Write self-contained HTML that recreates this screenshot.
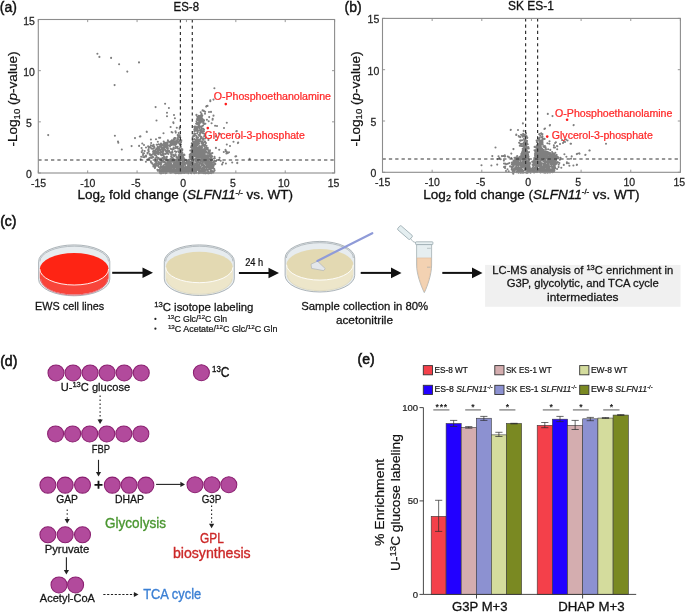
<!DOCTYPE html><html><head><meta charset="utf-8"><style>html,body{margin:0;padding:0;background:#fff;}svg{display:block;filter:blur(0.3px);}text{font-family:"Liberation Sans",sans-serif;}</style></head><body>
<svg width="685" height="612" viewBox="0 0 685 612">
<rect width="685" height="612" fill="#fff"/>
<path d="M38.30 173.00v-2.6M38.30 19.50v2.6M87.68 173.00v-2.6M87.68 19.50v2.6M137.07 173.00v-2.6M137.07 19.50v2.6M186.45 173.00v-2.6M186.45 19.50v2.6M235.83 173.00v-2.6M235.83 19.50v2.6M285.22 173.00v-2.6M285.22 19.50v2.6M334.60 173.00v-2.6M334.60 19.50v2.6M38.30 173.00h2.6M334.60 173.00h-2.6M38.30 121.83h2.6M334.60 121.83h-2.6M38.30 70.67h2.6M334.60 70.67h-2.6M38.30 19.50h2.6M334.60 19.50h-2.6" stroke="#8c8c8c" stroke-width="0.9" fill="none"/>
<path d="M194.5 144.3h0M182.5 168.0h0M193.3 171.8h0M176.3 167.6h0M193.9 153.7h0M196.1 155.4h0M176.6 160.4h0M202.1 163.9h0M172.9 160.0h0M187.8 169.5h0M198.7 151.0h0M182.2 165.8h0M200.5 160.0h0M196.9 160.7h0M190.7 156.3h0M204.5 171.7h0M185.1 162.9h0M194.3 173.2h0M203.6 150.9h0M180.4 163.0h0M163.1 166.1h0M180.7 169.4h0M189.1 169.7h0M203.4 169.1h0M179.0 169.8h0M179.6 159.8h0M210.5 163.7h0M187.3 161.4h0M195.8 143.7h0M207.7 166.5h0M206.3 167.1h0M180.8 154.5h0M161.4 169.5h0M192.5 146.7h0M205.0 173.2h0M161.2 171.9h0M188.0 172.7h0M205.8 163.9h0M168.9 166.2h0M188.2 166.5h0M203.0 172.9h0M205.2 167.3h0M203.4 165.2h0M173.7 163.7h0M209.7 173.0h0M193.1 170.3h0M204.5 157.1h0M194.6 167.1h0M208.2 166.6h0M199.8 157.0h0M169.5 166.8h0M177.6 167.1h0M181.3 171.7h0M198.4 147.3h0M208.0 167.3h0M167.7 168.0h0M212.0 162.6h0M178.6 159.2h0M211.5 162.4h0M187.9 171.3h0M183.0 169.4h0M172.7 160.4h0M166.9 170.6h0M178.8 156.4h0M190.9 170.4h0M182.3 170.8h0M198.4 159.5h0M177.3 158.3h0M189.4 166.6h0M200.9 157.9h0M189.8 165.9h0M208.4 155.9h0M192.5 157.9h0M187.1 163.8h0M184.0 158.7h0M185.3 171.6h0M197.1 169.5h0M189.7 171.6h0M201.5 170.2h0M168.2 164.5h0M195.0 146.5h0M206.8 172.4h0M171.6 171.9h0M181.1 157.3h0M212.5 168.1h0M193.1 158.1h0M163.4 172.9h0M201.8 172.5h0M182.4 170.6h0M167.9 170.9h0M190.2 164.0h0M196.5 155.4h0M163.8 171.5h0M193.6 167.2h0M164.4 168.9h0M163.5 169.1h0M189.3 171.1h0M200.3 151.1h0M198.9 159.3h0M203.4 155.6h0M186.2 168.2h0M180.8 157.9h0M196.5 172.8h0M178.2 168.1h0M197.5 162.0h0M181.4 152.9h0M163.7 165.3h0M164.5 168.4h0M206.1 163.1h0M174.0 172.2h0M211.5 159.2h0M173.0 172.3h0M191.0 158.6h0M199.8 162.6h0M197.9 169.6h0M180.6 152.2h0M198.4 162.2h0M162.3 168.2h0M207.3 161.7h0M198.9 167.5h0M186.7 168.2h0M202.6 167.9h0M191.0 170.0h0M196.2 163.8h0M165.6 168.2h0M189.6 161.7h0M193.2 163.4h0M202.3 165.5h0M194.9 144.1h0M199.0 149.9h0M198.7 148.4h0M199.2 172.6h0M185.4 163.5h0M200.6 161.4h0M194.1 144.4h0M199.4 151.6h0M195.6 163.7h0M195.8 151.1h0M211.8 171.4h0M203.5 172.4h0M171.1 171.7h0M203.5 158.0h0M207.0 164.1h0M172.3 170.2h0M176.8 168.4h0M209.1 164.4h0M179.7 154.3h0M179.1 155.4h0M165.4 168.2h0M175.1 171.4h0M179.8 172.0h0M206.9 167.5h0M193.4 170.7h0M209.9 159.2h0M198.8 156.2h0M199.9 162.2h0M175.8 165.2h0M194.8 151.4h0M171.0 170.4h0M208.0 173.3h0M190.2 169.9h0M199.7 155.0h0M181.9 158.5h0M180.0 152.6h0M186.7 161.8h0M181.2 156.0h0M210.6 168.6h0M207.5 156.9h0M180.8 171.1h0M203.8 168.9h0M187.7 163.4h0M209.9 164.7h0M194.3 166.0h0M184.2 159.3h0M172.3 170.9h0M194.2 151.5h0M193.7 163.9h0M210.8 162.2h0M206.8 156.9h0M210.9 164.1h0M186.4 163.2h0M182.3 150.1h0M195.4 171.1h0M196.2 148.2h0M202.2 165.2h0M171.7 165.9h0M175.6 171.9h0M195.3 171.8h0M171.3 172.6h0M207.6 169.7h0M198.8 173.3h0M169.8 171.4h0M195.2 153.9h0M178.9 167.8h0M203.6 155.6h0M179.8 170.9h0M181.8 167.5h0M199.6 170.2h0M210.8 161.4h0M173.9 164.5h0M208.6 161.9h0M210.7 172.0h0M182.8 157.5h0M202.5 165.2h0M203.6 166.3h0M192.2 152.3h0M170.5 165.6h0M177.3 172.8h0M206.8 173.0h0M197.6 156.0h0M192.9 163.2h0M199.6 168.6h0M195.2 145.8h0M204.6 151.2h0M199.1 148.3h0M168.1 169.8h0M181.0 173.2h0M202.8 162.5h0M185.2 167.7h0M204.5 170.7h0M211.6 160.3h0M205.9 156.1h0M173.8 166.4h0M191.6 161.5h0M173.5 160.8h0M194.5 148.4h0M196.0 147.8h0M202.1 159.2h0M181.0 159.3h0M193.9 144.9h0M168.7 163.8h0M181.7 150.9h0M176.3 171.9h0M176.6 159.8h0M178.9 155.1h0M205.8 173.3h0M198.6 148.4h0M182.5 167.8h0M181.5 169.7h0M194.0 170.6h0M179.7 157.8h0M187.6 171.1h0M202.7 172.4h0M210.0 172.6h0M207.9 161.5h0M201.6 149.0h0M181.4 168.6h0M198.4 170.2h0M191.8 159.3h0M193.2 151.6h0M182.3 160.3h0M182.6 162.7h0M200.5 166.5h0M193.7 144.6h0M198.9 166.4h0M205.4 173.3h0M198.8 167.6h0M170.3 172.8h0M186.1 172.0h0M201.8 171.2h0M200.1 147.0h0M186.6 170.9h0M168.5 171.4h0M196.0 170.1h0M168.9 166.6h0M193.7 153.3h0M206.3 159.4h0M190.7 169.7h0M165.5 173.2h0M193.4 154.4h0M202.3 150.3h0M179.1 166.0h0M193.9 172.9h0M191.1 162.8h0M192.7 155.6h0M187.2 170.1h0M194.6 142.7h0M171.9 160.3h0M193.1 156.9h0M167.1 171.4h0M206.2 166.6h0M181.3 150.3h0M194.2 155.9h0M209.7 165.0h0M173.2 170.4h0M163.1 166.5h0M170.6 161.1h0M186.9 162.1h0M162.6 169.9h0M201.5 164.5h0M199.5 156.6h0M199.3 156.2h0M177.8 165.5h0M196.8 168.5h0M197.7 150.4h0M201.8 158.4h0M174.1 162.2h0M199.4 171.7h0M199.5 152.3h0M172.7 170.5h0M193.4 163.8h0M195.3 172.7h0M184.9 168.4h0M197.0 168.9h0M183.2 164.8h0M171.2 161.6h0M164.1 170.6h0M165.7 171.2h0M196.7 161.9h0M196.9 165.1h0M179.3 167.7h0M203.4 170.0h0M163.5 169.2h0M208.5 171.7h0M204.9 167.5h0M193.6 167.9h0M193.5 151.0h0M200.1 148.4h0M175.0 164.5h0M211.1 157.8h0M205.1 161.4h0M183.1 166.3h0M178.4 164.1h0M200.4 172.7h0M186.0 167.0h0M178.4 168.1h0M173.8 171.6h0M197.1 157.6h0M164.3 166.7h0M196.9 166.7h0M193.3 153.2h0M181.3 154.4h0M207.8 157.7h0M180.1 169.8h0M188.2 165.7h0M199.9 162.3h0M168.2 168.5h0M195.1 165.3h0M201.0 160.2h0M197.3 168.5h0M211.7 164.9h0M165.4 172.2h0M212.1 167.0h0M198.9 155.7h0M170.4 162.0h0M181.1 166.8h0M196.8 157.7h0M193.5 156.5h0M181.4 165.3h0M208.1 155.5h0M190.4 165.5h0M182.3 149.2h0M198.3 169.6h0M201.0 164.0h0M205.2 163.3h0M194.0 156.3h0M176.6 161.7h0M201.5 164.4h0M193.4 149.9h0M182.4 156.3h0M192.9 154.9h0M195.8 171.2h0M169.7 162.6h0M201.2 154.2h0M186.0 172.6h0M168.5 166.5h0M209.9 158.3h0M188.7 164.5h0M187.1 162.1h0M203.9 158.4h0M181.7 171.8h0M171.1 163.5h0M180.8 165.9h0M166.5 172.9h0M182.3 163.9h0M171.9 165.3h0M209.8 158.6h0M171.6 167.2h0M166.9 166.4h0M202.9 161.9h0M172.0 172.3h0M178.7 162.1h0M203.4 167.6h0M204.2 153.1h0M182.7 162.0h0M194.9 153.4h0M209.2 168.8h0M163.0 168.0h0M208.0 166.6h0M167.4 168.1h0M160.6 171.9h0M194.8 149.9h0M172.4 166.4h0M207.9 166.9h0M168.9 170.0h0M192.2 166.5h0M195.4 170.1h0M201.8 168.3h0M170.5 163.8h0M188.1 165.3h0M183.2 169.7h0M188.6 169.1h0M195.3 168.4h0M179.9 155.2h0M193.8 162.0h0M196.2 171.2h0M177.5 172.8h0M198.1 161.6h0M177.9 169.1h0M179.4 156.9h0M187.9 166.2h0M182.4 159.4h0M203.8 151.2h0M203.9 154.7h0M186.8 172.6h0M194.7 166.9h0M175.9 160.4h0M193.6 166.6h0M206.9 159.1h0M208.8 161.1h0M194.9 166.8h0M208.2 161.2h0M192.7 161.7h0M196.9 160.7h0M196.1 148.7h0M195.4 156.4h0M201.1 170.7h0M194.8 153.6h0M203.6 166.7h0M194.0 171.3h0M202.9 160.1h0M208.7 156.0h0M191.4 171.4h0M194.2 148.7h0M166.4 172.3h0M164.7 169.3h0M198.1 149.6h0M198.9 147.9h0M197.8 168.9h0M193.3 164.3h0M184.4 171.3h0M173.5 172.3h0M176.5 164.9h0M168.8 169.0h0M179.5 160.1h0M183.3 163.3h0M167.7 167.0h0M179.3 162.2h0M193.4 155.1h0M180.4 166.7h0M210.1 166.6h0M163.2 172.6h0M197.3 168.0h0M177.6 161.0h0M211.8 168.1h0M191.9 151.7h0M182.7 169.9h0M180.0 163.5h0M191.9 170.1h0M202.8 150.9h0M182.4 160.4h0M203.2 169.9h0M162.2 168.2h0M203.0 169.2h0M205.1 167.3h0M196.3 170.7h0M189.3 167.0h0M170.6 165.6h0M192.2 163.3h0M173.5 165.6h0M202.0 156.4h0M164.6 167.3h0M200.9 149.3h0M190.7 170.2h0M206.9 158.4h0M169.6 164.0h0M179.2 159.7h0M181.3 158.2h0M191.7 152.8h0M161.8 173.1h0M205.9 157.3h0M201.3 155.4h0M210.2 166.1h0M203.4 172.3h0M189.5 169.3h0M184.3 171.7h0M191.7 154.5h0M166.4 172.1h0M173.6 159.7h0M194.0 172.0h0M195.5 154.3h0M211.2 173.1h0M207.8 170.4h0M201.7 164.3h0M194.3 172.9h0M200.0 171.5h0M195.9 151.4h0M191.3 165.8h0M198.0 148.1h0M161.9 171.1h0M171.7 171.3h0M205.9 169.9h0M165.1 171.2h0M204.6 161.7h0M203.6 157.0h0M193.3 146.5h0M197.8 159.4h0M167.7 169.3h0M204.5 152.5h0M176.9 170.4h0M166.1 172.7h0M163.0 170.1h0M195.4 148.6h0M179.3 173.1h0M198.5 151.2h0M202.8 152.7h0M204.1 158.5h0M169.5 166.2h0M197.7 148.2h0M192.3 157.6h0M192.5 164.2h0M203.0 160.3h0M198.8 154.8h0M203.0 152.5h0M204.6 169.1h0M208.2 157.0h0M169.9 168.1h0M179.7 160.7h0M183.6 158.2h0M166.4 164.4h0M203.3 169.2h0M177.0 164.3h0M180.2 165.6h0M163.2 169.4h0M210.6 157.5h0M173.3 167.7h0M197.0 148.1h0M190.6 158.4h0M197.2 145.2h0M206.1 164.5h0M191.4 169.0h0M199.6 147.2h0M203.8 171.4h0M180.6 155.2h0M204.5 158.5h0M181.0 171.6h0M201.2 152.6h0M183.1 172.8h0M202.6 170.7h0M203.2 168.6h0M210.8 171.3h0M193.5 153.4h0M183.0 157.8h0M211.4 166.4h0M209.7 161.9h0M202.9 169.8h0M194.0 150.3h0M196.0 150.6h0M188.7 171.0h0M192.9 149.9h0M176.2 162.3h0M210.7 158.1h0M204.5 161.2h0M190.2 162.4h0M170.7 164.3h0M184.4 159.2h0M192.5 156.7h0M180.3 160.4h0M175.1 173.0h0M175.7 166.2h0M206.2 155.8h0M183.3 165.1h0M210.8 165.2h0M178.7 163.2h0M192.7 168.7h0M203.5 158.3h0M199.2 165.3h0M200.3 156.9h0M201.6 164.2h0M200.6 160.4h0M186.4 172.2h0M201.5 169.4h0M192.2 153.9h0M198.3 151.2h0M180.7 159.4h0M180.4 152.1h0M201.7 168.7h0M204.7 168.3h0M182.6 170.6h0M189.9 157.6h0M208.8 166.3h0M188.5 173.3h0M196.3 154.2h0M179.0 160.7h0M178.6 171.8h0M195.9 158.5h0M181.2 159.6h0M190.4 169.6h0M183.3 161.6h0M188.1 167.6h0M211.9 167.9h0M207.4 163.7h0M203.5 173.1h0M207.1 155.2h0M193.4 160.9h0M178.7 173.2h0M193.7 143.3h0M181.8 166.7h0M176.3 163.7h0M204.6 160.4h0M195.4 148.2h0M174.1 162.3h0M188.2 173.3h0M187.7 167.8h0M192.5 167.3h0M200.8 152.1h0M197.9 153.1h0M165.3 170.4h0M162.9 170.0h0M190.9 172.1h0M183.3 161.5h0M209.3 168.8h0M176.7 170.2h0M203.2 151.5h0M191.9 172.1h0M186.3 171.8h0M198.1 149.0h0M176.4 169.5h0M185.7 166.9h0M166.5 167.9h0M195.2 152.7h0M168.3 164.2h0M183.5 168.3h0M178.7 164.7h0M180.0 172.1h0M171.0 171.9h0M197.4 150.2h0M207.7 160.4h0M192.2 148.7h0M174.3 166.2h0M180.4 162.6h0M169.4 168.7h0M177.0 162.8h0M179.2 157.7h0M166.7 164.5h0M208.2 166.3h0M206.8 169.0h0M195.2 153.0h0M181.9 162.7h0M197.1 149.8h0M204.9 153.1h0M193.3 147.7h0M166.1 170.7h0M198.9 164.4h0M193.8 147.6h0M204.5 159.9h0M198.0 150.0h0M183.1 163.5h0M204.2 166.4h0M205.3 161.1h0M165.9 166.9h0M171.1 170.7h0M196.8 154.4h0M199.6 168.0h0M209.3 163.7h0M199.1 168.1h0M193.3 156.2h0M182.7 158.1h0M197.2 167.3h0M211.4 162.0h0M197.5 163.0h0M175.9 169.8h0M177.7 167.6h0M189.1 165.9h0M169.0 162.9h0M191.7 156.5h0M200.6 168.1h0M170.4 164.0h0M212.6 165.6h0M212.0 159.7h0M208.7 162.2h0M193.3 171.4h0M194.6 149.9h0M204.5 151.3h0M169.8 162.0h0M204.8 171.1h0M168.9 166.6h0M204.0 165.3h0M203.7 152.1h0M179.5 159.3h0M179.6 168.1h0M190.0 161.7h0M203.4 164.2h0M208.0 171.7h0M196.5 147.1h0M183.5 172.5h0M204.6 168.9h0M201.7 155.4h0M175.0 162.8h0M195.3 167.9h0M211.5 170.5h0M205.9 172.6h0M211.0 161.5h0M195.9 161.1h0M175.7 159.9h0M210.5 157.1h0M194.3 151.4h0M178.2 169.8h0M196.0 156.0h0M179.7 160.2h0M182.1 158.6h0M207.2 159.2h0M166.0 169.1h0M183.3 169.1h0M189.2 164.4h0M212.5 164.7h0M165.4 168.1h0M210.9 159.7h0M197.5 155.4h0M207.1 161.5h0M206.2 159.7h0M208.6 169.3h0M168.9 165.4h0M178.1 166.0h0M196.1 167.9h0M199.1 171.8h0M189.1 167.2h0M166.0 171.1h0M195.8 150.0h0M204.4 160.3h0M165.9 167.1h0M175.4 163.6h0M206.4 158.9h0M196.5 167.4h0M186.6 169.4h0M169.7 167.7h0M196.0 154.3h0M204.8 154.4h0M206.3 161.2h0M171.5 170.1h0M184.8 160.1h0M180.6 153.1h0M184.3 173.0h0M195.6 150.6h0M173.9 159.9h0M188.0 172.0h0M189.7 166.2h0M206.2 166.3h0M193.6 161.9h0M202.2 169.4h0M209.7 163.4h0M176.1 166.0h0M199.2 158.0h0M193.7 153.0h0M177.1 173.0h0M198.5 159.3h0M208.8 160.3h0M190.8 173.0h0M178.9 166.3h0M182.7 169.3h0M197.3 148.9h0M192.0 169.1h0M194.3 148.2h0M198.9 172.2h0M202.9 169.5h0M206.4 162.1h0M177.3 165.5h0M194.4 154.7h0M196.0 152.6h0M177.7 157.5h0M191.7 150.1h0M209.0 159.7h0M192.5 164.7h0M203.1 155.3h0M189.4 162.6h0M191.9 152.4h0M199.3 150.1h0M197.7 166.0h0M201.1 151.7h0M200.9 172.7h0M187.7 171.5h0M185.2 162.6h0M201.0 153.4h0M199.1 170.9h0M201.2 149.6h0M193.7 152.8h0M202.4 156.4h0M177.2 170.4h0M165.7 165.0h0M181.3 169.1h0M181.7 170.9h0M210.1 161.7h0M200.2 162.2h0M175.8 173.2h0M168.3 169.1h0M199.8 167.8h0M185.7 170.0h0M168.6 163.4h0M191.7 156.2h0M190.7 169.7h0M171.1 169.7h0M179.1 166.5h0M205.8 173.2h0M165.9 172.6h0M168.0 165.1h0M196.2 144.8h0M178.0 170.8h0M198.0 169.7h0M172.4 166.9h0M196.5 143.2h0M161.1 173.1h0M176.8 169.6h0M169.5 163.5h0M167.8 165.2h0M178.7 157.6h0M171.4 172.4h0M206.8 165.0h0M181.6 159.5h0M196.5 162.5h0M196.6 172.8h0M206.3 164.5h0M181.2 152.0h0M182.2 172.6h0M180.5 154.1h0M192.2 171.1h0M173.5 161.2h0M204.7 166.6h0M196.8 152.2h0M194.2 159.2h0M176.7 172.5h0M205.2 158.0h0M191.4 173.2h0M172.4 161.8h0M199.4 153.9h0M197.7 154.4h0M187.9 161.2h0M195.9 152.1h0M193.3 159.1h0M171.8 161.2h0M174.0 170.5h0M185.1 164.7h0M209.1 158.6h0M169.1 167.8h0M184.4 162.1h0M203.9 170.1h0M180.2 168.1h0M202.6 158.4h0M181.0 173.3h0M196.8 156.1h0M185.4 167.1h0M196.0 153.5h0M198.1 150.6h0M193.7 169.0h0M202.0 161.4h0M197.8 151.3h0M181.6 162.4h0M203.0 153.1h0M180.4 160.2h0M211.5 164.4h0M179.7 162.9h0M200.1 153.9h0M207.8 165.8h0M204.5 155.0h0M185.1 170.0h0M183.3 157.4h0M187.1 167.9h0M195.5 165.3h0M196.0 159.4h0M200.8 166.2h0M164.1 167.7h0M199.9 159.7h0M197.7 157.2h0M182.1 160.3h0M212.9 167.6h0M177.7 158.3h0M160.3 173.0h0M205.5 159.4h0M205.9 167.2h0M190.9 153.5h0M208.7 159.5h0M174.5 167.0h0M175.5 164.3h0M202.5 160.6h0M184.1 171.4h0M183.6 169.6h0M193.9 143.5h0M208.9 159.6h0M202.4 157.6h0M195.7 163.2h0M201.6 171.9h0M182.0 162.7h0M173.7 170.4h0M196.4 146.9h0M162.2 168.3h0M202.4 172.8h0M180.1 162.1h0M198.6 155.5h0M196.0 145.6h0M208.9 173.3h0M209.8 158.5h0M199.8 157.6h0M185.7 169.1h0M191.7 159.0h0M174.4 170.0h0M191.7 172.4h0M178.2 171.7h0M194.8 143.6h0M173.1 165.3h0M169.5 166.7h0M189.2 166.7h0M191.6 156.5h0M195.1 147.1h0M169.0 171.6h0M177.6 168.4h0M206.3 157.1h0M172.7 169.4h0M186.6 170.0h0M160.8 171.6h0M185.9 166.8h0M190.2 163.6h0M172.2 165.6h0M191.6 166.6h0M197.7 144.0h0M173.0 160.8h0M192.8 163.7h0M203.2 152.7h0M203.0 156.5h0M173.0 165.0h0M196.0 146.7h0M177.5 172.6h0M212.9 166.9h0M201.3 170.5h0M199.8 162.0h0M170.5 161.6h0M204.8 166.7h0M164.9 164.5h0M211.2 163.1h0M199.5 146.2h0M203.9 171.4h0M208.0 165.4h0M204.1 167.2h0M191.3 155.7h0M203.7 166.6h0M210.9 158.7h0M211.3 166.7h0M173.4 168.3h0M186.1 170.5h0M196.3 164.3h0M180.8 166.6h0M202.1 163.4h0M209.9 167.9h0M194.6 168.3h0M178.0 160.7h0M204.3 166.9h0M203.1 155.1h0M192.1 156.4h0M178.7 168.5h0M192.8 151.2h0M197.2 155.9h0M195.0 167.3h0M166.4 163.4h0M162.2 167.8h0M171.9 169.9h0M192.3 170.1h0M180.9 157.7h0M210.7 157.9h0M169.3 171.7h0M184.1 167.4h0M205.7 158.1h0M180.0 171.2h0M207.4 162.9h0M183.5 172.1h0M179.2 162.8h0M193.5 153.8h0M187.7 163.2h0M208.1 157.6h0M179.3 172.7h0M163.0 168.2h0M196.2 159.5h0M183.7 165.6h0M207.2 164.9h0M210.5 170.0h0M180.8 165.5h0M194.0 150.8h0M200.4 151.1h0M211.8 162.4h0M202.7 163.2h0M180.2 172.2h0M197.6 163.7h0M190.5 167.9h0M202.1 152.9h0M199.1 147.4h0M211.2 172.2h0M180.9 154.1h0M170.8 170.5h0M183.9 168.3h0M193.8 166.4h0M200.1 156.8h0M189.6 163.1h0M199.9 150.6h0M179.2 170.8h0M193.4 150.2h0M203.8 159.8h0M178.7 171.5h0M199.9 163.3h0M181.9 167.4h0M194.2 172.4h0M193.6 163.7h0M201.1 154.4h0M209.8 165.3h0M202.7 153.0h0M169.8 169.4h0M195.5 170.3h0M186.6 168.8h0M195.4 160.1h0M181.4 160.0h0M174.5 168.5h0M201.8 168.3h0M168.0 163.1h0M200.0 157.7h0M207.6 170.2h0M199.4 167.8h0M194.4 169.6h0M167.0 164.1h0M197.3 161.2h0M192.0 167.9h0M195.8 172.6h0M202.5 153.3h0M197.1 144.3h0M204.4 152.2h0M189.4 167.4h0M162.1 168.0h0M193.4 152.7h0M177.5 159.8h0M171.5 166.9h0M171.1 168.4h0M202.9 158.9h0M193.4 164.8h0M191.0 154.6h0M172.0 169.2h0M212.8 167.3h0M184.1 163.4h0M197.5 156.3h0M181.4 150.9h0M156.3 163.0h0M166.7 151.3h0M156.4 161.7h0M168.2 161.6h0M173.4 158.8h0M158.5 148.0h0M155.3 158.9h0M176.1 151.9h0M155.0 164.6h0M168.3 154.0h0M173.7 149.1h0M156.9 157.1h0M178.8 155.0h0M165.7 159.2h0M179.3 149.1h0M153.4 157.3h0M164.8 157.1h0M165.2 149.8h0M157.8 159.6h0M172.4 152.6h0M157.4 149.5h0M157.8 170.7h0M157.1 160.5h0M179.8 144.4h0M174.5 138.1h0M156.1 165.8h0M155.3 154.2h0M153.4 165.0h0M166.3 158.4h0M167.7 145.5h0M171.1 142.2h0M177.5 138.0h0M161.9 145.9h0M174.7 139.8h0M172.4 157.6h0M166.9 152.0h0M163.2 158.1h0M164.3 161.8h0M161.3 146.8h0M153.1 151.4h0M174.4 144.8h0M158.1 150.2h0M160.7 164.4h0M175.7 155.0h0M153.4 166.5h0M160.2 158.7h0M161.9 155.2h0M181.3 140.3h0M167.2 159.6h0M159.3 169.7h0M155.7 151.3h0M150.9 161.2h0M169.2 159.9h0M153.7 153.5h0M158.9 164.3h0M159.8 150.1h0M172.3 151.5h0M180.2 147.5h0M176.9 142.9h0M171.7 144.9h0M179.3 140.2h0M171.4 157.1h0M171.4 141.1h0M181.8 149.1h0M171.1 156.4h0M161.8 162.5h0M154.5 165.0h0M158.2 148.4h0M158.0 165.4h0M159.2 149.0h0M174.8 142.8h0M162.4 148.4h0M170.8 152.6h0M178.2 136.0h0M164.9 162.0h0M157.5 151.3h0M161.7 152.5h0M174.1 156.2h0M177.8 138.3h0M178.0 142.4h0M179.9 152.2h0M164.7 146.5h0M156.7 160.1h0M171.2 154.3h0M174.0 155.2h0M157.6 153.7h0M169.6 159.7h0M154.7 165.7h0M177.8 148.5h0M179.2 141.2h0M157.4 157.6h0M179.2 137.2h0M156.2 163.5h0M163.0 160.8h0M157.6 152.8h0M170.1 142.5h0M177.0 142.0h0M160.4 150.0h0M161.1 160.3h0M155.3 166.6h0M150.0 157.9h0M158.4 151.9h0M168.2 162.0h0M166.9 156.9h0M178.7 136.2h0M169.0 151.8h0M181.0 144.6h0M180.5 150.1h0M163.6 154.9h0M171.2 154.2h0M171.3 157.1h0M181.2 141.6h0M168.5 141.2h0M172.4 144.1h0M157.7 148.4h0M167.0 160.7h0M152.4 163.2h0M170.2 152.6h0M171.0 141.1h0M157.5 151.0h0M181.0 142.2h0M179.2 143.2h0M173.8 148.2h0M163.2 150.6h0M152.5 156.9h0M161.5 161.8h0M171.9 140.3h0M170.8 159.0h0M156.4 164.2h0M169.1 141.8h0M150.5 155.1h0M173.5 144.7h0M155.6 161.4h0M158.6 162.0h0M160.9 154.6h0M160.4 150.4h0M165.5 144.2h0M158.5 165.2h0M173.6 147.5h0M172.4 149.2h0M173.2 143.0h0M153.1 157.1h0M156.2 161.9h0M171.5 156.3h0M170.5 143.5h0M158.4 150.7h0M167.3 162.5h0M151.0 162.5h0M171.5 144.3h0M175.7 146.2h0M160.2 162.4h0M151.8 158.0h0M153.9 154.0h0M166.9 148.3h0M173.2 154.9h0M175.1 138.2h0M165.7 144.0h0M171.7 142.7h0M160.3 152.8h0M162.0 151.6h0M164.8 159.1h0M154.2 152.4h0M170.1 145.8h0M152.2 163.6h0M175.0 151.2h0M174.9 139.3h0M155.3 155.0h0M177.0 140.7h0M155.6 164.1h0M163.8 147.3h0M158.4 163.2h0M169.6 145.4h0M165.1 162.2h0M173.8 139.1h0M153.5 166.0h0M158.3 152.5h0M177.7 146.7h0M155.6 163.3h0M180.8 146.9h0M158.6 148.4h0M162.1 147.9h0M157.4 169.8h0M163.3 159.1h0M157.9 170.2h0M176.3 144.0h0M171.3 149.0h0M177.2 139.3h0M167.5 147.3h0M176.6 147.6h0M178.5 139.5h0M171.9 159.7h0M167.7 152.0h0M161.0 164.8h0M175.8 142.9h0M174.0 141.8h0M165.0 149.8h0M160.0 158.9h0M179.0 152.5h0M160.1 168.4h0M166.8 153.1h0M171.6 142.2h0M161.7 148.3h0M151.1 157.3h0M164.0 162.3h0M175.6 148.1h0M157.2 163.3h0M176.0 142.6h0M164.0 149.0h0M160.7 162.8h0M156.1 155.5h0M166.2 160.3h0M175.8 141.2h0M163.7 157.7h0M163.6 154.2h0M156.5 157.1h0M158.8 167.0h0M180.0 136.1h0M154.6 152.1h0M160.9 164.2h0M155.2 150.2h0M170.0 145.9h0M160.2 153.9h0M155.9 152.9h0M163.1 148.0h0M163.8 147.9h0M172.4 149.4h0M154.9 168.1h0M161.5 158.8h0M179.8 149.8h0M164.0 145.7h0M168.0 160.1h0M169.1 160.7h0M167.8 149.9h0M165.5 153.5h0M161.3 155.0h0M165.5 147.1h0M162.5 158.0h0M175.5 144.3h0M162.0 149.3h0M167.5 144.9h0M160.8 166.4h0M155.2 161.2h0M172.9 158.8h0M155.9 158.0h0M164.1 149.4h0M172.9 140.9h0M161.4 163.0h0M151.9 154.9h0M168.7 151.8h0M160.9 149.6h0M162.4 161.2h0M175.5 154.3h0M163.4 160.4h0M169.9 146.5h0M162.2 144.6h0M160.3 163.8h0M158.5 158.1h0M155.1 167.8h0M165.8 144.8h0M179.9 137.3h0M154.8 164.0h0M169.0 150.8h0M180.2 137.4h0M175.2 138.1h0M178.2 151.4h0M173.5 144.1h0M153.2 153.5h0M173.4 142.5h0M171.2 144.9h0M163.8 156.5h0M174.3 139.7h0M174.0 139.2h0M170.6 148.8h0M158.1 166.1h0M178.9 135.4h0M147.5 152.9h0M152.4 146.3h0M143.6 153.5h0M152.0 148.8h0M153.8 148.2h0M149.8 154.1h0M151.4 148.4h0M147.5 159.6h0M143.2 157.0h0M148.8 151.7h0M147.6 153.4h0M144.7 151.0h0M148.8 158.5h0M149.3 147.1h0M143.0 155.1h0M148.7 150.0h0M149.8 154.7h0M149.9 154.3h0M146.0 155.5h0M148.7 147.9h0M148.1 146.2h0M141.7 152.1h0M149.3 159.7h0M148.2 150.1h0M150.8 145.3h0M146.1 156.6h0M150.1 147.1h0M149.2 159.2h0M143.2 153.6h0M200.1 132.8h0M197.7 132.2h0M197.8 120.2h0M202.9 120.4h0M203.9 120.3h0M197.3 124.0h0M203.0 119.6h0M201.6 143.5h0M198.3 130.6h0M192.8 136.3h0M197.9 123.0h0M196.1 123.6h0M205.1 138.5h0M197.9 117.4h0M204.2 136.2h0M193.8 135.3h0M196.5 114.9h0M202.6 138.9h0M199.2 117.5h0M201.5 127.8h0M201.4 114.5h0M194.8 126.5h0M196.5 121.3h0M201.6 119.6h0M197.5 137.8h0M198.0 117.0h0M198.8 118.5h0M201.5 130.3h0M203.6 122.3h0M205.5 142.7h0M198.6 116.4h0M198.8 115.9h0M201.8 138.2h0M200.2 139.2h0M196.7 138.1h0M197.0 138.7h0M192.9 139.3h0M204.5 135.8h0M202.3 115.4h0M197.2 137.2h0M205.1 141.6h0M204.5 133.9h0M194.4 131.2h0M198.7 124.1h0M197.1 130.9h0M200.3 119.6h0M195.7 130.6h0M199.1 127.3h0M201.5 118.2h0M199.5 121.7h0M203.1 138.4h0M203.2 131.1h0M199.2 125.6h0M195.9 126.6h0M202.1 142.9h0M198.7 139.5h0M194.7 128.6h0M196.9 122.9h0M196.9 140.4h0M202.5 119.0h0M195.0 141.6h0M201.3 137.3h0M201.0 138.0h0M203.6 119.9h0M196.6 115.1h0M203.4 139.7h0M198.8 125.3h0M195.5 129.9h0M202.2 145.9h0M204.2 144.8h0M198.1 127.4h0M204.3 123.9h0M204.3 145.7h0M197.9 118.4h0M203.1 125.5h0M198.1 126.4h0M200.4 120.9h0M197.1 140.7h0M196.5 137.5h0M200.9 118.3h0M200.7 122.4h0M200.3 133.4h0M196.4 136.1h0M200.5 130.8h0M196.2 127.2h0M195.2 133.9h0M203.4 142.6h0M195.5 141.2h0M194.9 135.3h0M203.2 143.8h0M199.7 126.0h0M195.4 140.3h0M197.0 127.8h0M199.1 122.2h0M202.0 131.1h0M199.2 130.2h0M196.9 124.0h0M200.7 132.9h0M193.2 136.6h0M199.5 123.7h0M196.6 127.2h0M197.5 117.2h0M201.4 136.9h0M198.2 126.8h0M195.0 141.8h0M198.4 143.4h0M197.1 139.6h0M205.9 137.6h0M201.6 130.3h0M198.6 118.6h0M194.1 136.1h0M201.9 121.0h0M201.2 116.2h0M200.7 117.6h0M199.1 123.2h0M199.8 116.1h0M198.8 135.0h0M201.7 132.3h0M200.8 141.4h0M200.1 119.6h0M198.1 143.4h0M200.0 140.3h0M197.0 128.4h0M206.0 143.0h0M201.3 115.1h0M200.7 112.2h0M202.4 121.4h0M203.9 131.3h0M191.7 145.7h0M198.1 143.4h0M201.8 131.7h0M200.9 115.6h0M205.1 144.9h0M203.4 121.9h0M205.4 142.6h0M202.5 119.8h0M199.8 134.8h0M202.0 129.0h0M203.3 128.7h0M195.7 140.0h0M204.0 120.6h0M201.9 126.4h0M199.1 130.5h0M202.7 145.1h0M196.9 119.1h0M196.7 139.5h0M201.4 126.8h0M199.4 116.9h0M199.1 141.7h0M194.5 139.1h0M196.8 142.7h0M201.0 129.8h0M197.2 133.5h0M194.8 128.0h0M199.8 134.4h0M200.9 115.8h0M203.2 122.3h0M204.4 141.6h0M201.7 142.8h0M198.1 137.2h0M199.1 116.7h0M197.3 116.7h0M194.2 133.5h0M194.3 129.5h0M199.6 128.1h0M199.1 143.6h0M203.0 133.2h0M199.6 119.4h0M203.2 122.9h0M202.4 119.8h0M200.1 136.2h0M197.1 129.7h0M201.9 116.9h0M199.8 139.6h0M198.8 120.7h0M196.0 128.9h0M197.1 141.7h0M202.3 115.4h0M196.4 115.1h0M202.0 141.4h0M197.4 123.1h0M199.2 128.1h0M198.1 141.0h0M204.0 129.5h0M194.2 126.8h0M214.8 158.3h0M207.7 148.6h0M212.4 153.1h0M208.2 150.1h0M210.3 153.5h0M209.1 151.5h0M206.9 148.1h0M206.9 149.3h0M203.2 149.3h0M206.1 147.3h0M204.3 150.5h0M214.5 156.8h0M206.5 151.8h0M204.4 146.8h0M210.0 150.3h0M209.1 153.0h0M211.2 153.5h0M209.9 151.5h0M214.3 160.8h0M203.6 150.4h0M212.1 156.4h0M213.4 165.3h0M214.0 158.5h0M214.2 168.9h0M214.8 164.0h0M205.4 149.4h0M207.7 147.9h0M207.2 152.6h0M206.5 145.7h0M214.3 164.8h0M210.9 154.3h0M212.9 171.4h0M204.8 148.9h0M209.9 154.5h0M213.9 161.7h0M212.0 159.4h0M204.3 146.6h0M212.8 172.4h0M214.7 161.6h0M208.4 152.4h0M210.6 155.7h0M214.2 162.0h0M215.3 163.9h0M214.6 170.4h0M208.3 153.4h0M213.7 162.5h0M216.0 161.1h0M215.8 161.1h0M213.2 172.5h0M211.7 158.6h0M212.9 171.9h0M210.2 156.0h0M213.8 171.6h0M175.8 132.6h0M178.7 133.0h0M176.8 127.7h0M179.8 135.8h0M179.7 128.7h0M179.8 127.2h0M179.3 135.3h0M178.0 136.0h0M167.8 145.6h0M157.0 151.6h0M162.9 154.4h0M161.1 144.7h0M156.0 149.2h0M154.2 154.6h0M166.2 144.1h0M163.2 151.4h0M153.9 153.2h0M164.3 145.2h0M153.6 144.8h0M164.3 147.9h0M165.0 142.7h0M153.7 145.9h0M166.1 142.8h0M153.2 152.8h0M153.5 151.4h0M162.6 154.9h0M158.5 147.6h0M152.5 145.8h0M155.9 153.4h0M163.4 153.3h0M160.5 151.9h0M154.0 146.5h0M156.7 144.8h0M163.8 143.6h0M157.2 144.8h0M165.8 150.9h0M159.7 146.5h0M159.2 149.6h0M165.8 144.4h0M160.0 153.1h0M154.5 147.4h0M167.9 148.2h0M158.1 154.3h0M166.3 146.4h0M154.0 150.8h0M162.6 145.2h0M160.2 144.9h0M159.1 148.0h0M166.8 148.1h0M167.4 142.4h0M166.7 150.9h0M166.0 147.0h0M167.9 140.4h0M165.6 153.9h0M158.0 154.1h0M155.4 152.8h0M159.5 147.0h0M155.1 153.6h0M163.7 141.5h0M167.6 143.8h0M158.0 147.0h0M161.2 155.1h0M167.1 150.8h0M157.8 141.8h0M153.1 148.8h0M161.3 147.6h0M167.7 147.0h0M157.6 147.1h0M161.5 149.2h0M158.8 144.3h0M157.0 148.4h0M161.0 143.5h0M157.5 153.3h0M166.2 144.0h0M142.4 150.4h0M141.6 148.0h0M141.2 156.8h0M156.0 139.2h0M160.2 137.7h0M171.6 132.0h0M151.2 143.0h0M144.2 157.3h0M202.6 110.4h0M225.5 149.9h0M209.2 117.1h0M205.1 111.7h0M211.0 111.9h0M219.0 133.4h0M208.6 138.7h0M226.4 151.8h0M215.1 125.8h0M232.2 162.5h0M215.9 147.9h0M201.5 113.8h0M220.7 160.8h0M226.4 153.5h0M226.8 151.7h0M208.4 140.0h0M223.8 152.0h0M219.6 157.8h0M207.5 105.9h0M205.0 113.7h0M229.0 152.3h0M215.7 136.4h0M160.2 173.3h0M161.0 172.5h0M159.6 171.9h0M160.8 170.8h0M163.1 167.1h0M160.7 166.7h0M161.4 166.6h0M162.1 167.8h0M169.9 161.9h0M168.3 162.3h0M166.2 163.6h0M168.1 161.3h0M174.9 160.5h0M169.9 159.8h0M174.2 159.9h0M173.9 159.6h0M179.0 155.7h0M177.3 157.3h0M176.4 156.5h0M176.5 157.5h0M179.5 153.0h0M180.9 152.2h0M179.6 154.7h0M180.1 152.4h0M180.2 150.7h0M183.2 156.4h0M181.8 152.6h0M182.9 155.1h0M184.1 154.5h0M182.3 152.9h0M184.5 155.0h0M185.9 159.9h0M183.6 157.8h0M183.9 160.7h0M187.6 161.9h0M188.8 160.0h0M189.7 156.9h0M191.0 154.5h0M188.8 159.8h0M189.2 159.8h0M189.7 159.5h0M192.6 148.0h0M190.3 150.5h0M191.6 150.3h0M189.7 154.9h0M190.3 154.1h0M192.3 143.8h0M191.5 146.3h0M191.1 147.2h0M193.0 141.4h0M191.8 143.3h0M195.8 142.2h0M195.2 143.1h0M199.1 146.7h0M198.8 143.8h0M198.4 144.5h0M200.9 146.2h0M201.9 148.9h0M199.4 146.4h0M202.0 147.5h0M205.7 151.1h0M203.3 151.6h0M204.8 151.0h0M203.6 150.5h0M210.9 156.6h0M210.9 155.6h0M206.4 152.6h0M209.9 155.3h0M211.2 160.3h0M212.1 159.7h0M212.4 162.7h0M211.6 157.2h0M212.5 168.2h0M213.7 164.7h0M213.4 166.6h0M212.0 165.3h0M213.3 162.0h0M212.8 164.5h0M211.9 171.2h0M212.4 171.5h0M214.4 88.2h0M210.3 100.4h0M206.2 106.6h0M213.5 115.5h0M212.6 119.8h0M206.9 119.8h0M211.6 123.3h0M224.0 128.0h0M226.8 122.7h0M236.3 131.2h0M239.2 136.9h0M233.5 141.7h0M238.2 142.6h0M226.8 144.5h0M219.2 149.8h0M225.9 151.2h0M227.8 153.1h0M235.4 156.5h0M249.6 158.8h0M237.3 162.9h0M223.0 162.5h0M225.9 163.5h0M219.2 159.7h0M222.1 164.4h0M114.9 135.8h0M118.0 141.6h0M118.3 142.7h0M121.8 149.5h0M135.0 138.1h0M139.8 136.5h0M146.7 131.8h0M131.6 146.1h0M139.1 145.9h0M48.2 135.1h0M97.4 53.7h0M99.4 56.9h0M111.1 57.9h0M119.1 64.2h0M127.3 71.6h0M139.0 62.4h0M114.6 85.1h0M155.6 107.1h0M165.1 103.8h0M168.9 108.0h0M167.0 112.8h0M167.0 116.3h0M174.0 115.0h0M174.9 118.2h0M173.3 122.4h0M173.5 123.1h0M156.5 120.5h0M170.6 127.0h0M146.8 131.9h0M163.5 133.3h0M159.1 137.7h0M140.4 136.4h0M150.9 139.5h0M172.4 132.5h0M175.5 131.2h0M177.7 135.1h0M178.5 135.5h0M213.5 99.6h0M210.3 101.2h0M206.7 106.0h0M203.8 110.9h0M201.4 114.9h0M212.7 118.9h0M213.5 115.7h0M208.7 121.3h0M205.4 123.7h0M209.0 112.0h0M217.0 126.0h0M220.0 134.0h0M216.0 140.0h0M230.0 146.0h0M236.8 131.0h0M237.9 143.1h0M236.2 156.2h0M249.6 159.1h0M237.2 163.1h0M142.3 143.5h0M144.0 145.0h0M146.0 147.5h0M144.0 153.3h0M144.7 156.5h0M140.7 159.4h0M145.9 161.7h0" stroke="#7f7f7f" stroke-width="2.1" stroke-linecap="round" fill="none"/>
<path d="M180.40 19.50V173.00M192.30 19.50V173.00" stroke="#333" stroke-width="1.2" stroke-dasharray="3.1 3.1" fill="none"/>
<path d="M38.30 160.00H334.60" stroke="#333" stroke-width="1.2" stroke-dasharray="3.3 3.05" fill="none"/>
<rect x="38.30" y="19.50" width="296.30" height="153.50" fill="none" stroke="#8c8c8c" stroke-width="1.1"/>
<text x="38.50" y="186.90" font-size="10.5" fill="#262626" stroke="#262626" stroke-width="0.252" text-anchor="middle" >-15</text>
<text x="87.78" y="186.90" font-size="10.5" fill="#262626" stroke="#262626" stroke-width="0.252" text-anchor="middle" >-10</text>
<text x="135.87" y="186.90" font-size="10.5" fill="#262626" stroke="#262626" stroke-width="0.252" text-anchor="middle" >-5</text>
<text x="183.25" y="186.90" font-size="10.5" fill="#262626" stroke="#262626" stroke-width="0.252" text-anchor="middle" >0</text>
<text x="232.93" y="186.90" font-size="10.5" fill="#262626" stroke="#262626" stroke-width="0.252" text-anchor="middle" >5</text>
<text x="283.82" y="186.90" font-size="10.5" fill="#262626" stroke="#262626" stroke-width="0.252" text-anchor="middle" >10</text>
<text x="333.50" y="186.90" font-size="10.5" fill="#262626" stroke="#262626" stroke-width="0.252" text-anchor="middle" >15</text>
<text x="29.00" y="178.00" font-size="10.5" fill="#262626" stroke="#262626" stroke-width="0.252" text-anchor="middle" >0</text>
<text x="29.00" y="126.83" font-size="10.5" fill="#262626" stroke="#262626" stroke-width="0.252" text-anchor="middle" >5</text>
<text x="29.00" y="75.67" font-size="10.5" fill="#262626" stroke="#262626" stroke-width="0.252" text-anchor="middle" >10</text>
<text x="29.00" y="24.50" font-size="10.5" fill="#262626" stroke="#262626" stroke-width="0.252" text-anchor="middle" >15</text>
<path d="M382.50 172.30v-2.6M382.50 18.40v2.6M432.15 172.30v-2.6M432.15 18.40v2.6M481.80 172.30v-2.6M481.80 18.40v2.6M531.45 172.30v-2.6M531.45 18.40v2.6M581.10 172.30v-2.6M581.10 18.40v2.6M630.75 172.30v-2.6M630.75 18.40v2.6M680.40 172.30v-2.6M680.40 18.40v2.6M382.50 172.30h2.6M680.40 172.30h-2.6M382.50 121.00h2.6M680.40 121.00h-2.6M382.50 69.70h2.6M680.40 69.70h-2.6M382.50 18.40h2.6M680.40 18.40h-2.6" stroke="#8c8c8c" stroke-width="0.9" fill="none"/>
<path d="M522.5 171.6h0M518.0 163.6h0M541.3 155.9h0M521.0 167.5h0M530.7 169.7h0M524.0 172.5h0M515.2 160.9h0M529.3 162.2h0M527.6 163.1h0M534.8 161.8h0M553.0 159.7h0M555.1 156.8h0M521.1 171.1h0M538.5 164.3h0M528.4 169.0h0M518.4 165.4h0M516.7 163.1h0M544.0 171.2h0M550.4 157.3h0M536.2 157.5h0M515.5 169.8h0M535.2 163.5h0M524.4 154.8h0M529.3 167.6h0M542.3 172.0h0M521.4 165.5h0M525.9 141.9h0M522.8 154.3h0M538.9 150.5h0M517.1 157.8h0M528.6 166.8h0M535.1 163.7h0M545.9 152.5h0M520.3 171.9h0M539.7 157.1h0M517.8 159.7h0M544.6 156.3h0M545.1 163.7h0M516.5 171.8h0M546.5 157.2h0M522.7 158.0h0M545.9 161.8h0M553.4 164.8h0M537.0 172.1h0M529.0 171.0h0M550.7 157.7h0M540.6 171.5h0M529.0 171.5h0M525.4 160.7h0M550.4 162.9h0M554.6 164.3h0M549.4 160.4h0M534.4 158.1h0M515.4 164.4h0M524.5 154.6h0M517.6 167.5h0M524.7 150.6h0M548.7 157.3h0M524.8 169.3h0M549.1 160.2h0M547.6 166.3h0M547.6 172.6h0M553.9 166.1h0M518.5 160.6h0M533.2 168.7h0M553.2 170.5h0M516.5 160.5h0M551.4 161.9h0M526.8 142.7h0M553.9 168.4h0M541.8 153.0h0M549.7 167.0h0M545.1 160.3h0M526.7 150.8h0M544.9 152.4h0M520.3 165.0h0M537.4 164.5h0M549.6 159.0h0M527.1 169.1h0M545.6 156.5h0M537.7 170.8h0M552.4 159.8h0M540.0 154.5h0M554.6 159.6h0M552.8 170.4h0M543.6 172.3h0M550.4 158.0h0M526.3 162.8h0M550.2 157.1h0M556.2 158.2h0M522.1 158.0h0M547.0 167.3h0M529.1 171.1h0M528.0 163.4h0M520.6 159.7h0M518.1 171.7h0M539.5 162.0h0M555.1 161.9h0M523.0 152.9h0M528.0 153.1h0M548.8 153.2h0M518.7 163.7h0M537.7 150.9h0M541.5 166.1h0M547.7 164.7h0M538.7 149.7h0M551.2 155.5h0M540.7 157.1h0M541.9 152.2h0M538.4 164.6h0M528.6 160.3h0M518.9 167.3h0M516.3 166.3h0M541.0 149.4h0M526.5 172.1h0M545.6 164.6h0M538.3 161.6h0M512.8 166.9h0M527.2 168.3h0M531.0 170.0h0M534.1 172.4h0M544.7 172.2h0M553.2 154.8h0M544.4 171.3h0M542.4 152.3h0M539.3 162.1h0M523.7 163.2h0M524.2 157.8h0M539.6 154.2h0M521.7 163.2h0M548.8 162.0h0M551.5 165.9h0M534.6 163.9h0M526.5 162.0h0M535.2 169.2h0M543.2 170.0h0M551.6 171.9h0M540.2 160.8h0M548.3 160.6h0M522.3 164.1h0M539.3 147.8h0M543.4 159.1h0M524.4 155.4h0M523.0 160.1h0M550.3 170.3h0M551.0 162.3h0M534.3 158.7h0M552.3 172.0h0M521.4 165.1h0M555.0 160.5h0M534.2 159.7h0M537.0 147.7h0M527.5 153.5h0M526.4 156.8h0M519.5 156.9h0M548.3 161.2h0M546.8 169.0h0M536.8 162.4h0M543.5 157.6h0M535.3 154.1h0M517.6 170.4h0M535.4 163.3h0M553.7 164.5h0M537.9 171.3h0M540.5 155.5h0M548.1 169.6h0M528.4 158.1h0M543.0 160.5h0M524.7 170.0h0M537.2 163.9h0M543.4 155.2h0M537.1 161.9h0M540.7 150.6h0M534.2 159.3h0M544.2 155.2h0M535.6 159.4h0M538.7 155.4h0M534.3 159.3h0M516.8 168.0h0M535.8 163.1h0M539.2 166.1h0M533.5 162.7h0M537.6 162.4h0M552.5 172.3h0M528.8 166.5h0M535.1 159.1h0M551.1 171.0h0M525.9 148.4h0M553.7 160.0h0M537.6 160.9h0M541.7 154.8h0M545.1 172.7h0M540.7 161.0h0M536.9 170.9h0M518.5 167.1h0M528.6 169.1h0M548.5 162.2h0M553.8 157.4h0M525.0 161.1h0M552.3 157.5h0M540.4 172.0h0M548.0 172.4h0M540.7 151.0h0M549.8 158.0h0M540.5 166.6h0M525.7 145.9h0M552.4 160.3h0M513.5 163.3h0M544.9 165.3h0M545.0 162.4h0M528.0 171.8h0M526.0 169.4h0M546.5 169.2h0M540.7 158.6h0M549.6 158.1h0M543.7 172.2h0M555.8 161.1h0M543.9 158.1h0M550.7 163.2h0M518.1 161.1h0M527.4 170.3h0M522.3 153.3h0M537.8 147.9h0M544.9 166.3h0M538.6 168.7h0M534.5 164.9h0M526.9 169.3h0M542.4 171.4h0M549.8 166.7h0M542.4 166.7h0M537.7 153.7h0M526.6 149.7h0M527.5 157.2h0M540.5 168.4h0M519.9 164.4h0M515.0 162.5h0M537.8 169.2h0M513.9 163.1h0M515.9 168.2h0M539.9 157.5h0M524.4 168.7h0M517.5 159.7h0M549.8 162.1h0M525.2 164.4h0M518.5 171.4h0M552.3 159.4h0M551.9 161.4h0M542.3 152.8h0M542.8 152.0h0M553.6 154.3h0M524.5 154.9h0M545.7 154.2h0M549.6 169.2h0M531.6 168.9h0M517.1 169.2h0M515.9 160.8h0M539.2 147.2h0M532.3 168.5h0M514.6 170.6h0M551.0 156.0h0M522.5 151.2h0M550.6 155.1h0M537.3 149.7h0M530.7 170.5h0M517.5 163.4h0M526.5 154.6h0M544.9 152.4h0M532.6 164.7h0M536.5 159.6h0M522.0 157.0h0M525.6 144.2h0M537.7 151.4h0M534.3 168.7h0M532.6 167.9h0M525.5 147.2h0M554.1 155.9h0M538.7 162.9h0M526.1 160.7h0M553.1 154.5h0M513.6 160.6h0M547.6 155.7h0M541.1 169.3h0M520.6 169.8h0M527.0 154.6h0M538.3 169.2h0M533.5 165.0h0M526.8 150.6h0M513.0 164.3h0M526.4 142.8h0M540.4 155.4h0M521.2 159.1h0M545.1 157.6h0M537.9 163.2h0M519.3 163.0h0M538.0 154.2h0M535.8 150.9h0M530.7 171.0h0M532.2 170.8h0M557.0 158.1h0M526.7 151.9h0M555.3 163.2h0M544.6 152.5h0M549.5 158.7h0M515.4 159.9h0M534.5 157.7h0M543.9 165.7h0M522.4 163.7h0M539.2 151.5h0M541.4 168.3h0M537.7 164.7h0M522.0 162.8h0M553.6 167.7h0M518.3 159.4h0M512.9 171.3h0M515.3 158.8h0M552.1 166.7h0M522.9 157.9h0M536.1 164.5h0M518.6 171.7h0M536.6 150.6h0M549.7 158.4h0M536.4 166.5h0M523.1 171.4h0M539.8 157.5h0M544.0 153.3h0M528.1 158.0h0M548.6 162.7h0M528.0 160.9h0M517.1 171.8h0M536.6 153.7h0M552.5 162.6h0M544.2 161.1h0M519.1 159.3h0M536.0 159.4h0M526.2 166.8h0M550.8 164.6h0M525.3 157.5h0M545.6 153.4h0M536.1 155.1h0M528.8 170.4h0M539.8 162.2h0M551.0 164.7h0M524.0 165.0h0M540.2 157.9h0M544.0 167.6h0M525.5 150.6h0M526.3 166.0h0M517.9 162.5h0M540.0 154.1h0M520.2 171.9h0M516.8 168.5h0M522.9 149.3h0M524.7 152.2h0M541.8 171.8h0M525.8 163.7h0M522.7 151.6h0M543.6 151.2h0M544.1 167.3h0M542.1 157.2h0M541.8 163.0h0M519.7 163.8h0M518.0 168.2h0M514.3 163.0h0M540.0 161.8h0M537.5 171.8h0M526.4 169.5h0M536.7 148.5h0M524.8 144.7h0M538.9 165.7h0M523.9 161.9h0M543.0 154.9h0M547.7 154.9h0M518.9 164.2h0M539.1 156.5h0M552.5 160.3h0M536.3 165.9h0M529.1 164.4h0M524.7 162.9h0M520.0 157.3h0M537.7 163.2h0M518.0 168.1h0M521.2 165.9h0M550.2 170.1h0M526.4 163.8h0M549.3 169.3h0M537.4 144.7h0M524.9 154.8h0M526.3 164.2h0M525.7 164.1h0M523.5 144.2h0M548.4 168.4h0M533.0 165.4h0M548.4 168.4h0M555.0 161.8h0M522.2 172.6h0M536.2 170.9h0M522.3 167.1h0M548.2 164.4h0M526.3 172.6h0M527.4 172.7h0M524.2 153.9h0M520.4 165.0h0M516.6 160.2h0M527.1 152.0h0M546.2 156.1h0M545.8 167.2h0M524.2 152.3h0M536.9 150.8h0M523.2 170.8h0M553.8 161.4h0M549.8 171.4h0M546.2 171.7h0M548.5 163.6h0M525.8 146.0h0M516.8 157.5h0M537.7 163.4h0M523.6 146.4h0M553.8 165.9h0M527.4 171.4h0M532.7 167.8h0M544.1 156.0h0M529.1 164.3h0M527.0 151.2h0M527.1 144.0h0M551.6 161.8h0M540.3 167.9h0M539.6 154.4h0M546.1 172.1h0M528.9 164.4h0M535.8 154.0h0M553.1 154.6h0M556.2 160.0h0M536.7 171.2h0M536.9 152.5h0M522.7 153.4h0M543.7 167.1h0M523.0 161.5h0M525.8 169.7h0M513.8 162.6h0M538.7 149.9h0M515.2 159.6h0M521.7 156.9h0M555.9 162.9h0M537.6 166.2h0M546.4 168.1h0M517.6 171.1h0M533.5 166.2h0M539.9 153.9h0M539.7 169.7h0M519.0 162.9h0M543.6 156.6h0M537.8 161.6h0M534.2 168.8h0M536.2 155.4h0M537.3 155.0h0M525.2 143.5h0M544.2 169.4h0M519.3 168.7h0M530.4 170.6h0M513.4 164.8h0M538.4 150.2h0M555.7 157.6h0M524.8 157.6h0M552.0 160.3h0M544.7 167.7h0M543.4 161.2h0M542.0 159.7h0M529.4 166.3h0M529.8 170.6h0M554.2 159.1h0M525.1 158.1h0M542.4 155.6h0M520.8 157.9h0M535.6 154.3h0M549.8 155.5h0M523.2 172.6h0M538.5 150.6h0M525.2 169.8h0M524.3 168.1h0M536.6 149.4h0M532.9 168.7h0M520.7 163.5h0M517.4 164.8h0M522.2 159.6h0M521.7 156.4h0M540.0 159.6h0M551.6 155.8h0M536.7 145.7h0M536.8 169.3h0M513.6 170.1h0M547.3 161.2h0M546.7 156.9h0M541.8 156.7h0M526.3 150.8h0M537.8 168.9h0M524.4 162.1h0M548.5 158.1h0M523.8 166.8h0M518.5 167.1h0M525.9 145.2h0M525.2 165.9h0M549.9 154.3h0M524.2 149.4h0M539.8 171.1h0M522.4 152.8h0M519.4 170.1h0M528.3 169.5h0M521.5 169.3h0M552.5 157.8h0M551.9 167.0h0M519.1 169.2h0M555.3 155.2h0M544.7 161.5h0M528.3 159.4h0M547.7 169.8h0M539.3 157.4h0M537.8 155.1h0M534.7 169.4h0M555.3 159.1h0M539.0 154.7h0M527.2 167.8h0M554.9 162.3h0M539.8 147.4h0M545.5 156.6h0M516.1 161.5h0M538.2 159.2h0M522.5 152.7h0M525.2 159.4h0M517.3 168.4h0M519.8 157.9h0M542.0 155.0h0M527.8 156.5h0M548.2 158.5h0M521.0 167.7h0M518.3 158.8h0M516.5 172.3h0M546.5 169.9h0M534.3 168.6h0M545.2 158.4h0M524.9 159.1h0M552.3 156.2h0M524.8 164.4h0M517.5 157.9h0M520.5 165.0h0M526.0 145.8h0M553.9 155.0h0M554.2 162.8h0M523.5 156.7h0M545.0 167.5h0M527.3 164.3h0M545.4 171.7h0M544.9 169.6h0M535.4 154.6h0M525.2 146.7h0M547.1 165.3h0M526.0 143.4h0M553.4 164.5h0M546.5 166.6h0M525.8 158.9h0M535.8 167.2h0M513.7 164.0h0M515.3 167.7h0M547.9 158.6h0M533.6 163.4h0M526.4 154.3h0M525.9 154.6h0M549.0 154.5h0M522.0 158.0h0M534.7 172.3h0M528.0 170.2h0M520.9 167.9h0M527.0 155.1h0M537.1 170.8h0M540.8 164.1h0M527.2 147.2h0M553.5 158.7h0M539.6 153.5h0M528.0 168.6h0M526.2 172.4h0M545.2 155.1h0M548.3 156.5h0M552.2 164.5h0M522.9 159.8h0M556.4 155.9h0M529.7 168.1h0M537.8 147.9h0M525.0 148.6h0M537.9 159.4h0M538.3 161.7h0M517.2 160.1h0M543.4 171.4h0M541.5 157.9h0M521.2 162.5h0M520.9 170.8h0M540.1 159.7h0M540.6 148.7h0M529.6 164.6h0M551.3 158.8h0M539.7 159.5h0M522.7 148.9h0M518.7 168.1h0M541.7 165.7h0M552.0 161.4h0M526.2 145.0h0M552.2 167.9h0M536.3 165.7h0M533.2 170.7h0M520.3 159.2h0M513.4 170.0h0M520.6 162.4h0M552.3 155.1h0M534.2 169.2h0M527.6 152.7h0M525.2 146.8h0M543.4 170.6h0M539.0 169.9h0M527.9 165.4h0M527.0 156.6h0M521.2 162.2h0M513.1 171.1h0M550.7 159.1h0M550.1 172.5h0M521.6 170.0h0M522.6 153.5h0M535.0 162.3h0M523.4 161.9h0M540.1 155.1h0M543.9 163.5h0M525.8 165.3h0M539.0 148.5h0M550.6 158.2h0M543.1 164.0h0M543.8 165.8h0M537.9 151.7h0M525.6 152.4h0M546.6 154.1h0M547.8 172.4h0M539.0 158.8h0M515.9 167.2h0M540.3 153.2h0M527.6 166.5h0M513.0 165.1h0M529.8 169.2h0M547.9 172.5h0M539.4 153.4h0M552.5 171.0h0M541.1 164.4h0M550.4 153.7h0M538.1 156.9h0M518.0 167.2h0M533.8 163.5h0M516.7 160.7h0M545.4 170.9h0M513.7 166.1h0M554.3 167.2h0M525.6 155.7h0M543.0 170.2h0M539.5 149.8h0M543.0 154.2h0M552.8 171.1h0M552.2 169.0h0M547.4 167.6h0M542.7 167.9h0M535.7 165.6h0M548.7 167.8h0M521.3 159.6h0M532.3 171.1h0M541.4 171.5h0M549.2 159.4h0M519.5 167.6h0M551.2 156.9h0M547.3 153.4h0M545.9 158.7h0M523.9 142.8h0M539.9 166.9h0M526.4 163.7h0M552.5 170.1h0M525.4 149.5h0M546.8 170.6h0M525.7 163.4h0M521.9 155.4h0M554.5 159.7h0M539.7 157.4h0M527.2 155.8h0M527.0 166.3h0M538.3 159.3h0M549.5 170.0h0M523.9 157.6h0M532.1 169.1h0M540.3 159.5h0M514.2 172.1h0M556.2 156.5h0M536.8 147.5h0M553.9 154.6h0M542.4 156.6h0M542.5 167.0h0M541.9 152.9h0M527.8 166.1h0M536.2 171.3h0M532.8 169.1h0M539.5 169.3h0M521.3 157.0h0M537.3 147.0h0M538.6 159.3h0M529.9 170.1h0M541.2 150.5h0M549.7 168.2h0M533.4 162.2h0M536.9 151.2h0M521.9 153.6h0M548.9 165.4h0M522.4 155.5h0M536.8 146.9h0M514.7 162.5h0M552.1 154.3h0M540.3 153.7h0M555.3 161.7h0M518.9 168.1h0M530.3 168.7h0M553.2 163.5h0M530.0 168.8h0M514.2 168.8h0M540.2 167.0h0M518.5 172.7h0M536.7 156.3h0M547.0 161.2h0M540.5 152.6h0M521.8 171.4h0M522.9 159.4h0M552.3 157.6h0M522.2 159.0h0M545.1 170.1h0M513.1 169.9h0M551.5 169.6h0M512.8 169.8h0M517.6 158.3h0M525.9 159.7h0M533.5 170.3h0M537.9 151.7h0M547.5 155.8h0M533.4 169.8h0M520.6 172.8h0M532.4 169.7h0M544.5 165.5h0M546.4 164.5h0M533.2 165.1h0M525.6 169.0h0M519.1 159.2h0M539.5 149.8h0M543.3 151.4h0M553.0 169.4h0M539.1 169.3h0M539.5 152.6h0M540.2 166.8h0M536.3 167.5h0M538.2 162.6h0M535.8 171.6h0M554.5 157.0h0M549.8 162.2h0M518.5 170.6h0M523.8 156.9h0M535.0 155.9h0M548.0 164.5h0M540.0 172.1h0M546.1 161.7h0M544.0 167.3h0M513.4 171.6h0M532.7 164.5h0M550.2 153.9h0M519.8 167.7h0M518.2 160.9h0M551.9 163.9h0M521.3 167.0h0M524.8 157.5h0M540.9 163.0h0M533.9 162.1h0M521.6 168.8h0M537.3 149.6h0M515.8 162.1h0M536.3 149.4h0M520.9 167.0h0M524.0 147.2h0M525.4 151.6h0M547.8 170.5h0M542.6 171.0h0M540.5 158.1h0M546.6 165.6h0M535.9 166.6h0M522.5 165.3h0M518.1 162.7h0M525.2 162.6h0M553.7 159.2h0M548.1 154.5h0M544.4 168.6h0M541.4 169.8h0M514.5 162.6h0M544.1 157.7h0M529.7 167.6h0M536.5 155.4h0M534.6 172.0h0M542.9 168.5h0M527.6 153.9h0M547.7 160.3h0M552.4 156.6h0M546.4 157.4h0M512.6 172.5h0M521.4 164.9h0M549.7 154.6h0M516.8 164.1h0M553.4 164.4h0M549.9 172.5h0M543.0 159.9h0M539.6 161.6h0M539.7 151.8h0M537.3 172.0h0M543.9 172.4h0M536.9 145.9h0M517.9 162.4h0M540.5 168.2h0M521.8 163.9h0M538.7 156.3h0M534.1 160.2h0M540.5 172.5h0M520.5 161.5h0M548.9 171.3h0M549.0 168.2h0M518.9 171.0h0M552.9 169.5h0M524.0 149.2h0M547.6 156.8h0M556.7 157.0h0M547.2 158.5h0M523.3 146.1h0M538.6 147.3h0M522.1 171.7h0M533.5 172.2h0M548.2 160.4h0M526.6 155.0h0M534.9 161.0h0M518.0 168.0h0M521.4 170.4h0M514.2 171.2h0M526.0 172.6h0M536.9 159.2h0M547.3 157.9h0M536.2 156.5h0M536.1 153.2h0M534.8 167.8h0M555.4 158.8h0M550.8 163.7h0M524.6 153.3h0M517.9 158.9h0M539.2 169.4h0M550.9 158.6h0M546.5 162.2h0M538.4 159.0h0M520.8 168.8h0M535.6 163.4h0M528.6 166.7h0M540.0 166.8h0M548.6 164.4h0M537.7 162.0h0M522.0 169.5h0M549.3 169.2h0M525.7 158.0h0M556.2 155.8h0M547.8 163.1h0M527.9 172.6h0M527.1 172.5h0M552.2 157.0h0M552.4 167.6h0M535.5 161.5h0M516.7 167.6h0M541.1 172.3h0M518.2 162.9h0M526.6 147.2h0M548.9 153.1h0M522.0 152.7h0M555.3 156.3h0M550.0 162.1h0M550.0 161.1h0M525.3 162.0h0M536.7 162.1h0M526.6 150.2h0M542.4 172.1h0M545.2 167.2h0M537.9 169.7h0M539.9 165.2h0M540.7 170.7h0M547.1 172.5h0M537.4 152.5h0M513.8 171.3h0M518.1 168.6h0M517.1 165.1h0M537.4 146.2h0M546.2 166.9h0M539.5 164.0h0M539.3 155.2h0M518.4 168.4h0M550.1 159.9h0M536.9 164.1h0M520.3 159.9h0M539.7 158.2h0M541.4 160.2h0M537.4 159.6h0M548.1 158.1h0M537.9 160.9h0M518.1 161.2h0M549.4 162.5h0M534.5 171.5h0M536.8 157.7h0M528.3 161.7h0M525.4 160.5h0M517.5 169.2h0M515.9 164.6h0M553.1 168.1h0M535.8 162.3h0M547.9 169.2h0M527.2 158.4h0M555.3 164.8h0M546.2 166.4h0M515.1 164.6h0M541.8 167.4h0M530.5 172.7h0M524.1 150.6h0M555.1 162.2h0M527.2 137.9h0M525.5 134.9h0M526.1 142.2h0M526.9 141.0h0M523.4 135.5h0M526.5 143.3h0M522.4 135.7h0M522.3 143.8h0M522.8 136.8h0M522.1 140.2h0M519.8 145.7h0M527.1 141.0h0M526.6 136.4h0M521.2 145.9h0M520.1 140.6h0M526.9 143.1h0M526.0 133.3h0M526.0 141.1h0M522.2 146.1h0M523.7 135.5h0M524.1 134.6h0M520.7 140.6h0M524.3 140.7h0M523.9 139.1h0M520.4 137.1h0M525.1 142.2h0M520.3 143.7h0M525.5 139.7h0M523.0 135.1h0M521.2 144.3h0M518.7 136.0h0M523.2 133.8h0M525.1 139.5h0M524.5 136.6h0M527.3 137.6h0M519.1 142.8h0M542.5 142.2h0M539.1 143.6h0M536.9 141.0h0M542.4 134.0h0M543.7 138.8h0M544.6 138.9h0M542.9 138.9h0M542.5 136.6h0M536.9 142.1h0M538.6 139.6h0M541.8 137.4h0M539.7 137.8h0M542.4 142.7h0M536.6 140.5h0M539.5 139.4h0M539.9 143.0h0M537.0 141.1h0M542.5 140.8h0M539.5 143.3h0M538.8 138.8h0M542.3 134.5h0M538.0 140.3h0M542.7 139.7h0M541.8 140.2h0M541.2 133.3h0M540.3 135.8h0M538.1 138.2h0M539.4 134.1h0M540.9 145.1h0M540.2 144.9h0M540.0 140.9h0M542.7 144.4h0M540.1 142.0h0M541.3 140.7h0M540.8 144.7h0M540.4 141.0h0M541.2 142.9h0M539.2 134.2h0M539.4 141.5h0M548.1 149.2h0M555.3 152.8h0M544.0 146.9h0M542.6 150.0h0M550.2 153.1h0M552.1 152.0h0M554.3 154.3h0M547.0 151.7h0M541.2 147.0h0M545.5 151.4h0M547.2 152.6h0M543.5 146.4h0M549.7 152.8h0M543.8 149.7h0M543.7 150.9h0M546.0 149.2h0M543.5 146.4h0M548.4 152.8h0M545.6 147.3h0M550.3 149.9h0M545.5 147.9h0M545.6 148.2h0M553.1 153.2h0M506.0 171.0h0M509.3 163.0h0M505.7 163.8h0M511.9 164.5h0M505.2 166.6h0M516.0 157.5h0M503.9 160.6h0M517.2 156.0h0M511.3 158.0h0M506.3 164.3h0M507.5 169.3h0M505.1 163.8h0M509.1 157.4h0M505.1 168.1h0M508.7 171.3h0M558.1 162.5h0M554.2 171.2h0M558.4 158.3h0M554.4 170.2h0M556.6 163.4h0M554.7 168.6h0M559.4 163.0h0M557.1 169.0h0M557.7 162.0h0M555.3 168.1h0M555.0 167.2h0M558.7 164.7h0M558.6 167.1h0M559.9 159.7h0M497.4 159.1h0M499.4 158.1h0M498.5 156.3h0M504.8 156.4h0M505.0 156.4h0M549.5 141.2h0M555.9 142.2h0M547.4 143.3h0M557.2 149.3h0M557.3 146.2h0M555.1 143.0h0M553.9 147.4h0M571.0 158.7h0M564.4 154.3h0M566.9 163.3h0M569.4 165.8h0M568.7 163.2h0M560.5 157.8h0M571.7 156.4h0M573.4 165.5h0M561.3 167.8h0M511.7 169.6h0M513.3 173.7h0M511.9 168.0h0M513.6 169.8h0M511.8 166.9h0M514.0 162.8h0M512.3 162.3h0M513.9 162.3h0M511.8 162.7h0M516.1 157.7h0M514.5 157.7h0M515.7 158.9h0M521.1 155.7h0M517.7 157.8h0M520.4 157.0h0M521.0 157.1h0M523.4 151.5h0M522.2 152.2h0M521.2 154.1h0M523.4 149.3h0M523.0 149.1h0M523.6 146.3h0M522.9 149.9h0M524.0 145.5h0M525.1 142.8h0M524.2 142.6h0M525.6 141.7h0M527.7 144.2h0M526.5 144.7h0M528.6 148.1h0M528.7 148.4h0M527.4 147.9h0M529.0 152.1h0M528.3 147.0h0M528.6 156.6h0M528.1 154.9h0M527.5 153.0h0M527.6 154.5h0M528.4 161.4h0M529.1 160.1h0M528.3 162.3h0M529.1 163.9h0M530.2 163.0h0M529.2 163.4h0M529.8 167.4h0M533.8 163.9h0M534.0 163.5h0M533.6 162.8h0M532.2 161.8h0M533.9 161.3h0M533.2 161.3h0M535.3 153.5h0M535.9 154.4h0M534.9 154.0h0M535.2 152.0h0M534.5 150.3h0M534.6 146.9h0M535.4 150.9h0M535.8 147.0h0M538.0 145.2h0M538.8 145.3h0M539.5 145.0h0M540.0 147.6h0M541.0 149.5h0M540.4 146.6h0M542.5 151.4h0M542.0 149.8h0M544.6 151.4h0M542.1 148.8h0M547.4 153.1h0M546.5 151.7h0M547.9 152.1h0M545.1 151.6h0M552.0 154.0h0M554.4 153.8h0M552.1 154.2h0M557.5 156.9h0M556.6 154.9h0M556.0 160.8h0M558.2 157.3h0M555.8 161.3h0M554.4 166.0h0M553.4 167.5h0M555.2 163.5h0M556.1 164.0h0M553.3 168.5h0M553.4 171.8h0M554.4 167.2h0M555.0 167.1h0M510.7 130.0h0M518.0 130.0h0M516.2 134.9h0M495.5 147.5h0M513.4 149.1h0M492.3 156.1h0M481.5 165.2h0M491.4 165.5h0M497.2 164.6h0M504.0 163.5h0M504.0 167.0h0M507.8 163.8h0M510.1 166.4h0M501.9 156.1h0M504.8 155.3h0M507.8 156.5h0M511.3 153.6h0M500.7 159.2h0M573.7 125.0h0M606.0 143.8h0M589.7 150.5h0M577.3 153.8h0M579.2 153.3h0M585.5 154.7h0M577.0 164.8h0M570.6 143.8h0M549.8 125.4h0M573.6 125.2h0M544.4 129.0h0M541.7 133.9h0M549.4 143.8h0M544.9 146.0h0M553.9 145.2h0M571.0 143.8h0M589.4 150.5h0M576.8 154.1h0M579.5 153.7h0M585.3 155.0h0M576.8 164.9h0M566.4 156.8h0M566.9 162.2h0M563.8 164.9h0M547.8 113.9h0M552.5 116.1h0M550.1 125.0h0M545.0 128.5h0M522.9 123.4h0M510.8 129.8h0M521.1 134.8h0M519.2 136.8h0M523.7 130.9h0M516.3 134.6h0M513.5 149.1h0M503.3 156.0h0M562.0 140.0h0M564.0 141.5h0M566.0 139.5h0M567.5 140.5h0M563.0 143.0h0M560.0 144.0h0M557.0 146.0h0M555.0 147.5h0M565.0 142.0h0" stroke="#7f7f7f" stroke-width="2.1" stroke-linecap="round" fill="none"/>
<path d="M525.60 18.40V172.30M537.60 18.40V172.30" stroke="#333" stroke-width="1.2" stroke-dasharray="3.1 3.1" fill="none"/>
<path d="M382.50 159.00H680.40" stroke="#333" stroke-width="1.2" stroke-dasharray="3.3 3.05" fill="none"/>
<rect x="382.50" y="18.40" width="297.90" height="153.90" fill="none" stroke="#8c8c8c" stroke-width="1.1"/>
<text x="382.70" y="186.20" font-size="10.5" fill="#262626" stroke="#262626" stroke-width="0.252" text-anchor="middle" >-15</text>
<text x="432.25" y="186.20" font-size="10.5" fill="#262626" stroke="#262626" stroke-width="0.252" text-anchor="middle" >-10</text>
<text x="480.60" y="186.20" font-size="10.5" fill="#262626" stroke="#262626" stroke-width="0.252" text-anchor="middle" >-5</text>
<text x="528.25" y="186.20" font-size="10.5" fill="#262626" stroke="#262626" stroke-width="0.252" text-anchor="middle" >0</text>
<text x="578.20" y="186.20" font-size="10.5" fill="#262626" stroke="#262626" stroke-width="0.252" text-anchor="middle" >5</text>
<text x="629.35" y="186.20" font-size="10.5" fill="#262626" stroke="#262626" stroke-width="0.252" text-anchor="middle" >10</text>
<text x="679.30" y="186.20" font-size="10.5" fill="#262626" stroke="#262626" stroke-width="0.252" text-anchor="middle" >15</text>
<text x="373.40" y="177.30" font-size="10.5" fill="#262626" stroke="#262626" stroke-width="0.252" text-anchor="middle" >0</text>
<text x="373.40" y="126.00" font-size="10.5" fill="#262626" stroke="#262626" stroke-width="0.252" text-anchor="middle" >5</text>
<text x="373.40" y="74.70" font-size="10.5" fill="#262626" stroke="#262626" stroke-width="0.252" text-anchor="middle" >10</text>
<text x="373.40" y="23.40" font-size="10.5" fill="#262626" stroke="#262626" stroke-width="0.252" text-anchor="middle" >15</text>
<text x="-0.20" y="11.80" font-size="14" fill="#111" stroke="#111" stroke-width="0.4" >(a)</text>
<text x="173.60" y="10.50" font-size="13" fill="#111" stroke="#111" stroke-width="0.312" textLength="25.40" lengthAdjust="spacingAndGlyphs" >ES-8</text>
<text x="77.60" y="199.20" font-size="13.2" fill="#111" stroke="#111" stroke-width="0.317" textLength="215.50" lengthAdjust="spacingAndGlyphs" >Log<tspan font-size="9" dy="2.5">2</tspan><tspan dy="-2.5"> fold change (</tspan><tspan font-style="italic">SLFN11</tspan><tspan font-size="7.5" dy="-4.5">-/-</tspan><tspan dy="4.5"> vs. WT)</tspan></text>
<text transform="translate(17.4 99) rotate(-90)" text-anchor="middle" font-size="13.6" fill="#111" stroke="#111" stroke-width="0.2">-Log<tspan font-size="9.5" dy="2.5">10</tspan><tspan dy="-2.5"> (</tspan><tspan font-style="italic">p</tspan>-value)</text>
<text x="213.70" y="99.90" font-size="10" fill="#ff2a2a" stroke="#ff2a2a" stroke-width="0.24" textLength="117.30" lengthAdjust="spacingAndGlyphs" >O-Phosphoethanolamine</text>
<text x="204.50" y="139.10" font-size="10" fill="#ff2a2a" stroke="#ff2a2a" stroke-width="0.24" textLength="100.30" lengthAdjust="spacingAndGlyphs" >Glycerol-3-phosphate</text>
<circle cx="225.8" cy="104.1" r="1.3" fill="#ff1a1a"/><circle cx="207.8" cy="128.1" r="1.3" fill="#ff1a1a"/>
<text x="344.50" y="11.80" font-size="14" fill="#111" stroke="#111" stroke-width="0.4" >(b)</text>
<text x="508.00" y="10.10" font-size="13" fill="#111" stroke="#111" stroke-width="0.312" textLength="45.80" lengthAdjust="spacingAndGlyphs" >SK ES-1</text>
<text x="423.30" y="198.80" font-size="13.2" fill="#111" stroke="#111" stroke-width="0.317" textLength="216.20" lengthAdjust="spacingAndGlyphs" >Log<tspan font-size="9" dy="2.5">2</tspan><tspan dy="-2.5"> fold change (</tspan><tspan font-style="italic">SLFN11</tspan><tspan font-size="7.5" dy="-4.5">-/-</tspan><tspan dy="4.5"> vs. WT)</tspan></text>
<text transform="translate(359.9 99) rotate(-90)" text-anchor="middle" font-size="13.6" fill="#111" stroke="#111" stroke-width="0.2">-Log<tspan font-size="9.5" dy="2.5">10</tspan><tspan dy="-2.5"> (</tspan><tspan font-style="italic">p</tspan>-value)</text>
<text x="555.10" y="116.50" font-size="10" fill="#ff2a2a" stroke="#ff2a2a" stroke-width="0.24" textLength="117.30" lengthAdjust="spacingAndGlyphs" >O-Phosphoethanolamine</text>
<text x="551.80" y="139.40" font-size="10" fill="#ff2a2a" stroke="#ff2a2a" stroke-width="0.24" textLength="101.00" lengthAdjust="spacingAndGlyphs" >Glycerol-3-phosphate</text>
<circle cx="567.1" cy="119.7" r="1.3" fill="#ff1a1a"/><circle cx="547.2" cy="136.6" r="1.3" fill="#ff1a1a"/>
<text x="0.20" y="226.00" font-size="14" fill="#111" stroke="#111" stroke-width="0.55">(c)</text>
<path d="M38.60 261.50A35.6 16.6 0 0 1 109.80 261.50V279.20A35.6 16.6 0 0 1 38.60 279.20Z" fill="#e7ecef" stroke="#9aa3a8" stroke-width="0.8"/>
<path d="M39.80 269.00V278.00A34.4 16.6 0 0 0 108.60 278.00V269.00Z" fill="#f8443a"/>
<path d="M40.80 279.00A33.4 16.0 0 0 0 107.60 279.00" fill="none" stroke="#e6707a" stroke-width="1"/>
<ellipse cx="74.2" cy="269.0" rx="34.4" ry="16.0" fill="#fe2414"/>
<path d="M39.80 269.00A34.4 16.0 0 0 0 108.60 269.00" fill="none" stroke="#fff" stroke-width="0.9"/>
<path d="M39.90 261.50A34.300000000000004 15.3 0 0 1 108.50 261.50" fill="none" stroke="#a9b1b6" stroke-width="0.8"/>
<path d="M164.30 261.50A35.0 16.6 0 0 1 234.30 261.50V278.90A35.0 16.6 0 0 1 164.30 278.90Z" fill="#e7ecef" stroke="#9aa3a8" stroke-width="0.8"/>
<path d="M165.70 267.20V277.70A33.6 16.1 0 0 0 232.90 277.70V267.20Z" fill="#ede6ca"/>
<path d="M166.70 278.70A32.6 15.5 0 0 0 231.90 278.70" fill="none" stroke="#e2dcc0" stroke-width="1"/>
<ellipse cx="199.3" cy="267.2" rx="33.6" ry="15.5" fill="#e3d9b2"/>
<path d="M165.70 267.20A33.6 15.5 0 0 0 232.90 267.20" fill="none" stroke="#fff" stroke-width="0.9"/>
<path d="M165.60 261.50A33.7 15.3 0 0 1 233.00 261.50" fill="none" stroke="#a9b1b6" stroke-width="0.8"/>
<path d="M285.10 258.00A34.8 16.6 0 0 1 354.70 258.00V275.40A34.8 16.6 0 0 1 285.10 275.40Z" fill="#e7ecef" stroke="#9aa3a8" stroke-width="0.8"/>
<path d="M286.50 264.60V274.20A33.4 16.1 0 0 0 353.30 274.20V264.60Z" fill="#ede6ca"/>
<path d="M287.50 275.20A32.4 15.5 0 0 0 352.30 275.20" fill="none" stroke="#e2dcc0" stroke-width="1"/>
<ellipse cx="319.9" cy="264.6" rx="33.4" ry="15.5" fill="#e3d9b2"/>
<path d="M286.50 264.60A33.4 15.5 0 0 0 353.30 264.60" fill="none" stroke="#fff" stroke-width="0.9"/>
<path d="M286.40 258.00A33.5 15.3 0 0 1 353.40 258.00" fill="none" stroke="#a9b1b6" stroke-width="0.8"/>
<path d="M311 264.2L317.5 261.2L325.2 268.6L323.6 270.6L311.6 268.4Z" fill="#e4e7eb" stroke="#a7adb3" stroke-width="0.6"/>
<path d="M317.4 260.9L372.3 233.2" stroke="#8f9bd8" stroke-width="2.2" stroke-linecap="round"/>
<path d="M112.20 272.80H143.50" stroke="#111" stroke-width="2"/>
<path d="M142.50 267.50L153.00 272.80L142.50 278.10Z" fill="#111"/>
<path d="M238.90 273.00H269.50" stroke="#111" stroke-width="2"/>
<path d="M268.50 267.70L279.00 273.00L268.50 278.30Z" fill="#111"/>
<path d="M360.70 272.90H392.00" stroke="#111" stroke-width="2"/>
<path d="M391.00 267.60L401.50 272.90L391.00 278.20Z" fill="#111"/>
<path d="M442.30 272.90H473.00" stroke="#111" stroke-width="2"/>
<path d="M472.00 267.60L482.50 272.90L472.00 278.20Z" fill="#111"/>
<text x="245.20" y="266.30" font-size="10" fill="#111" stroke="#111" stroke-width="0.24" textLength="18.00" lengthAdjust="spacingAndGlyphs" >24 h</text>
<path d="M410.2 238.2L413 241.6L416.5 242.8" stroke="#8fa0a6" stroke-width="0.7" fill="none"/>
<g transform="translate(405.0 232.6) rotate(41)"><rect x="-8.2" y="-2.6" width="16.4" height="5.2" rx="1.2" fill="#e4eef0" stroke="#8fa0a6" stroke-width="0.7"/></g>
<path d="M416.6 244.4V265C416.6 274 421 286 424.3 292.6C427.6 286 431.6 274 431.6 265V244.4Z" fill="#e6eef0" stroke="#9aa6ab" stroke-width="0.7"/>
<path d="M417.1 257.9V265C417.1 274 421.3 285.6 424.3 291.7C427.3 285.6 431.1 274 431.1 265V257.9Z" fill="#f3d2b2" stroke="#dcb592" stroke-width="0.5"/>
<path d="M427 248.3H430.8M427 267.2H430.4" stroke="#9aa6ab" stroke-width="0.6"/>
<rect x="415.6" y="241.8" width="17.3" height="2.8" rx="0.6" fill="#e8f0f2" stroke="#8fa0a6" stroke-width="0.7"/>
<rect x="485.1" y="264.9" width="195.4" height="41.9" fill="#f0f0f0"/>
<text x="582.80" y="274.00" font-size="10.5" fill="#141414" stroke="#141414" stroke-width="0.252" text-anchor="middle" textLength="181.00" lengthAdjust="spacingAndGlyphs" >LC-MS analysis of <tspan font-size="7" dy="-3.6">13</tspan><tspan dy="3.6">C enrichment in</tspan></text>
<text x="582.80" y="287.40" font-size="10.5" fill="#141414" stroke="#141414" stroke-width="0.252" text-anchor="middle" textLength="152.00" lengthAdjust="spacingAndGlyphs" >G3P, glycolytic, and TCA cycle</text>
<text x="582.80" y="300.80" font-size="10.5" fill="#141414" stroke="#141414" stroke-width="0.252" text-anchor="middle" textLength="71.50" lengthAdjust="spacingAndGlyphs" >intermediates</text>
<text x="35.10" y="310.10" font-size="11.2" fill="#141414" stroke="#141414" stroke-width="0.269" textLength="69.10" lengthAdjust="spacingAndGlyphs" >EWS cell lines</text>
<text x="154.20" y="310.90" font-size="11.2" fill="#141414" stroke="#141414" stroke-width="0.269" textLength="99.20" lengthAdjust="spacingAndGlyphs" ><tspan font-size="7.5" dy="-4">13</tspan><tspan dy="4">C isotope labeling</tspan></text>
<circle cx="155.4" cy="318.9" r="1.1" fill="#222"/><circle cx="155.4" cy="328.7" r="1.1" fill="#222"/>
<text x="167.50" y="322.00" font-size="8.6" fill="#141414" stroke="#141414" stroke-width="0.206" textLength="59.70" lengthAdjust="spacingAndGlyphs" ><tspan font-size="6" dy="-3">13</tspan><tspan dy="3">C Glc/</tspan><tspan font-size="6" dy="-3">12</tspan><tspan dy="3">C Gln</tspan></text>
<text x="167.90" y="331.80" font-size="8.6" fill="#141414" stroke="#141414" stroke-width="0.206" textLength="109.60" lengthAdjust="spacingAndGlyphs" ><tspan font-size="6" dy="-3">13</tspan><tspan dy="3">C Acetate/</tspan><tspan font-size="6" dy="-3">12</tspan><tspan dy="3">C Glc/</tspan><tspan font-size="6" dy="-3">12</tspan><tspan dy="3">C Gln</tspan></text>
<text x="301.20" y="310.30" font-size="11.2" fill="#141414" stroke="#141414" stroke-width="0.269" textLength="127.00" lengthAdjust="spacingAndGlyphs" >Sample collection in 80%</text>
<text x="335.90" y="323.50" font-size="11.2" fill="#141414" stroke="#141414" stroke-width="0.269" textLength="57.10" lengthAdjust="spacingAndGlyphs" >acetonitrile</text>
<text x="0.20" y="366.20" font-size="14" fill="#111" stroke="#111" stroke-width="0.55">(d)</text>
<circle cx="56.00" cy="372.90" r="8.0" fill="#b24a9c" stroke="#8a1f70" stroke-width="1.05"/>
<circle cx="73.05" cy="372.90" r="8.0" fill="#b24a9c" stroke="#8a1f70" stroke-width="1.05"/>
<circle cx="90.10" cy="372.90" r="8.0" fill="#b24a9c" stroke="#8a1f70" stroke-width="1.05"/>
<circle cx="107.15" cy="372.90" r="8.0" fill="#b24a9c" stroke="#8a1f70" stroke-width="1.05"/>
<circle cx="124.20" cy="372.90" r="8.0" fill="#b24a9c" stroke="#8a1f70" stroke-width="1.05"/>
<circle cx="141.25" cy="372.90" r="8.0" fill="#b24a9c" stroke="#8a1f70" stroke-width="1.05"/>
<circle cx="55.60" cy="433.90" r="8.0" fill="#b24a9c" stroke="#8a1f70" stroke-width="1.05"/>
<circle cx="72.65" cy="433.90" r="8.0" fill="#b24a9c" stroke="#8a1f70" stroke-width="1.05"/>
<circle cx="89.70" cy="433.90" r="8.0" fill="#b24a9c" stroke="#8a1f70" stroke-width="1.05"/>
<circle cx="106.75" cy="433.90" r="8.0" fill="#b24a9c" stroke="#8a1f70" stroke-width="1.05"/>
<circle cx="123.80" cy="433.90" r="8.0" fill="#b24a9c" stroke="#8a1f70" stroke-width="1.05"/>
<circle cx="140.85" cy="433.90" r="8.0" fill="#b24a9c" stroke="#8a1f70" stroke-width="1.05"/>
<circle cx="47.90" cy="485.10" r="8.0" fill="#b24a9c" stroke="#8a1f70" stroke-width="1.05"/>
<circle cx="65.20" cy="485.10" r="8.0" fill="#b24a9c" stroke="#8a1f70" stroke-width="1.05"/>
<circle cx="82.50" cy="485.10" r="8.0" fill="#b24a9c" stroke="#8a1f70" stroke-width="1.05"/>
<circle cx="112.30" cy="485.10" r="8.0" fill="#b24a9c" stroke="#8a1f70" stroke-width="1.05"/>
<circle cx="129.10" cy="485.10" r="8.0" fill="#b24a9c" stroke="#8a1f70" stroke-width="1.05"/>
<circle cx="145.90" cy="485.10" r="8.0" fill="#b24a9c" stroke="#8a1f70" stroke-width="1.05"/>
<circle cx="195.00" cy="484.70" r="8.0" fill="#b24a9c" stroke="#8a1f70" stroke-width="1.05"/>
<circle cx="211.90" cy="484.70" r="8.0" fill="#b24a9c" stroke="#8a1f70" stroke-width="1.05"/>
<circle cx="228.80" cy="484.70" r="8.0" fill="#b24a9c" stroke="#8a1f70" stroke-width="1.05"/>
<circle cx="47.90" cy="534.80" r="8.0" fill="#b24a9c" stroke="#8a1f70" stroke-width="1.05"/>
<circle cx="65.20" cy="534.80" r="8.0" fill="#b24a9c" stroke="#8a1f70" stroke-width="1.05"/>
<circle cx="82.50" cy="534.80" r="8.0" fill="#b24a9c" stroke="#8a1f70" stroke-width="1.05"/>
<circle cx="59.00" cy="584.90" r="8.0" fill="#b24a9c" stroke="#8a1f70" stroke-width="1.05"/>
<circle cx="75.60" cy="584.90" r="8.0" fill="#b24a9c" stroke="#8a1f70" stroke-width="1.05"/>
<circle cx="201.40" cy="372.70" r="8.0" fill="#b24a9c" stroke="#8a1f70" stroke-width="1.05"/>
<text x="60.70" y="391.40" font-size="11" fill="#141414" stroke="#141414" stroke-width="0.264" textLength="69.50" lengthAdjust="spacingAndGlyphs" >U-<tspan font-size="7.5" dy="-4">13</tspan><tspan dy="4">C glucose</tspan></text>
<text x="91.70" y="453.30" font-size="11" fill="#141414" stroke="#141414" stroke-width="0.264" textLength="18.30" lengthAdjust="spacingAndGlyphs" >FBP</text>
<text x="56.20" y="503.20" font-size="11" fill="#141414" stroke="#141414" stroke-width="0.264" textLength="21.80" lengthAdjust="spacingAndGlyphs" >GAP</text>
<text x="114.90" y="503.20" font-size="11" fill="#141414" stroke="#141414" stroke-width="0.264" textLength="29.00" lengthAdjust="spacingAndGlyphs" >DHAP</text>
<text x="201.70" y="503.30" font-size="11" fill="#141414" stroke="#141414" stroke-width="0.264" textLength="19.70" lengthAdjust="spacingAndGlyphs" >G3P</text>
<text x="44.70" y="552.80" font-size="11" fill="#141414" stroke="#141414" stroke-width="0.264" textLength="44.60" lengthAdjust="spacingAndGlyphs" >Pyruvate</text>
<text x="39.80" y="602.20" font-size="11" fill="#141414" stroke="#141414" stroke-width="0.264" textLength="55.20" lengthAdjust="spacingAndGlyphs" >Acetyl-CoA</text>
<text x="105.10" y="528.00" font-size="13.8" fill="#4a9630" stroke="#4a9630" stroke-width="0.331" textLength="60.80" lengthAdjust="spacingAndGlyphs" >Glycolysis</text>
<text x="200.00" y="542.50" font-size="13.8" fill="#cc2828" stroke="#cc2828" stroke-width="0.331" textLength="23.80" lengthAdjust="spacingAndGlyphs" >GPL</text>
<text x="172.90" y="557.90" font-size="13.8" fill="#cc2828" stroke="#cc2828" stroke-width="0.331" textLength="77.80" lengthAdjust="spacingAndGlyphs" >biosynthesis</text>
<text x="143.20" y="599.30" font-size="13.8" fill="#3a7fd4" stroke="#3a7fd4" stroke-width="0.331" textLength="58.00" lengthAdjust="spacingAndGlyphs" >TCA cycle</text>
<text x="212.00" y="376.50" font-size="14.5" fill="#111" stroke="#111" stroke-width="0.348" textLength="17.50" lengthAdjust="spacingAndGlyphs" ><tspan font-size="9.5" dy="-4.6">13</tspan><tspan dy="4.6">C</tspan></text>
<path d="M94.5 484.8H102.5M98.5 480.8V488.8" stroke="#111" stroke-width="1.8"/>
<path d="M100.10 395.60V419.90" stroke="#222" stroke-width="1.1" stroke-dasharray="1.5 2.4"/>
<path d="M97.50 419.40L100.10 424.00L102.70 419.40Z" fill="#222"/>
<path d="M98.50 459.80V472.50" stroke="#222" stroke-width="1.1"/>
<path d="M95.90 472.00L98.50 476.60L101.10 472.00Z" fill="#222"/>
<path d="M156.10 484.40H180.90" stroke="#222" stroke-width="1.1"/>
<path d="M180.40 481.80L185.00 484.40L180.40 487.00Z" fill="#222"/>
<path d="M67.20 509.40V519.50" stroke="#222" stroke-width="1.1" stroke-dasharray="1.5 2.4"/>
<path d="M64.60 519.00L67.20 523.60L69.80 519.00Z" fill="#222"/>
<path d="M211.60 505.60V524.20" stroke="#222" stroke-width="1.1" stroke-dasharray="1.5 2.4"/>
<path d="M209.00 523.70L211.60 528.30L214.20 523.70Z" fill="#222"/>
<path d="M66.40 557.30V570.50" stroke="#222" stroke-width="1.1"/>
<path d="M63.80 570.00L66.40 574.60L69.00 570.00Z" fill="#222"/>
<path d="M103.30 594.50H134.40" stroke="#222" stroke-width="1.1" stroke-dasharray="2.2 1.6"/>
<path d="M133.90 591.90L138.50 594.50L133.90 597.10Z" fill="#222"/>
<text x="357.60" y="363.90" font-size="14" fill="#111" stroke="#111" stroke-width="0.55">(e)</text>
<rect x="431.20" y="516.32" width="14.90" height="78.08" fill="#f4404a" stroke="#3a3a3a" stroke-width="0.6"/>
<rect x="446.10" y="423.48" width="15.10" height="170.92" fill="#2200ff" stroke="#3a3a3a" stroke-width="0.6"/>
<rect x="461.20" y="427.40" width="15.10" height="167.00" fill="#d4adaf" stroke="#3a3a3a" stroke-width="0.6"/>
<rect x="476.30" y="418.25" width="15.10" height="176.15" fill="#8c91d1" stroke="#3a3a3a" stroke-width="0.6"/>
<rect x="491.40" y="434.87" width="15.00" height="159.53" fill="#d4dc9d" stroke="#3a3a3a" stroke-width="0.6"/>
<rect x="506.40" y="423.48" width="15.20" height="170.92" fill="#7a8922" stroke="#3a3a3a" stroke-width="0.6"/>
<path d="M438.65 500.30V531.40M435.05 500.30h7.2M435.05 531.40h7.2" stroke="#2a2a2a" stroke-width="0.7" fill="none"/>
<path d="M453.65 420.40V426.50M450.05 420.40h7.2M450.05 426.50h7.2" stroke="#2a2a2a" stroke-width="0.7" fill="none"/>
<path d="M468.75 426.60V428.20M465.15 426.60h7.2M465.15 428.20h7.2" stroke="#2a2a2a" stroke-width="0.7" fill="none"/>
<path d="M483.85 416.40V420.40M480.25 416.40h7.2M480.25 420.40h7.2" stroke="#2a2a2a" stroke-width="0.7" fill="none"/>
<path d="M498.90 432.30V436.50M495.30 432.30h7.2M495.30 436.50h7.2" stroke="#2a2a2a" stroke-width="0.7" fill="none"/>
<path d="M514.00 423.30V423.90M510.40 423.30h7.2M510.40 423.90h7.2" stroke="#2a2a2a" stroke-width="0.7" fill="none"/>
<rect x="537.20" y="425.35" width="15.20" height="169.05" fill="#f4404a" stroke="#3a3a3a" stroke-width="0.6"/>
<rect x="552.40" y="419.18" width="15.20" height="175.22" fill="#2200ff" stroke="#3a3a3a" stroke-width="0.6"/>
<rect x="567.60" y="425.35" width="15.10" height="169.05" fill="#d4adaf" stroke="#3a3a3a" stroke-width="0.6"/>
<rect x="582.70" y="418.81" width="15.20" height="175.59" fill="#8c91d1" stroke="#3a3a3a" stroke-width="0.6"/>
<rect x="597.90" y="418.06" width="15.20" height="176.34" fill="#d4dc9d" stroke="#3a3a3a" stroke-width="0.6"/>
<rect x="613.10" y="415.07" width="15.30" height="179.33" fill="#7a8922" stroke="#3a3a3a" stroke-width="0.6"/>
<path d="M544.80 422.50V427.70M541.20 422.50h7.2M541.20 427.70h7.2" stroke="#2a2a2a" stroke-width="0.7" fill="none"/>
<path d="M560.00 416.40V421.60M556.40 416.40h7.2M556.40 421.60h7.2" stroke="#2a2a2a" stroke-width="0.7" fill="none"/>
<path d="M575.15 420.40V429.50M571.55 420.40h7.2M571.55 429.50h7.2" stroke="#2a2a2a" stroke-width="0.7" fill="none"/>
<path d="M590.30 417.40V420.70M586.70 417.40h7.2M586.70 420.70h7.2" stroke="#2a2a2a" stroke-width="0.7" fill="none"/>
<path d="M605.50 417.60V418.40M601.90 417.60h7.2M601.90 418.40h7.2" stroke="#2a2a2a" stroke-width="0.7" fill="none"/>
<path d="M620.75 414.60V415.40M617.15 414.60h7.2M617.15 415.40h7.2" stroke="#2a2a2a" stroke-width="0.7" fill="none"/>
<path d="M423.4 407.6V594.4H636.2M419.5 407.6H423.4M419.5 500.9H423.4M419.5 594.4H423.4M476.5 594.4v4.1M582.6 594.4v4.1" stroke="#333" stroke-width="0.9" fill="none"/>
<text x="418.00" y="597.70" font-size="9.5" fill="#222" stroke="#222" stroke-width="0.228" text-anchor="end" >0</text>
<text x="418.30" y="504.30" font-size="9.5" fill="#222" stroke="#222" stroke-width="0.228" text-anchor="end" >50</text>
<text x="418.00" y="411.00" font-size="9.5" fill="#222" stroke="#222" stroke-width="0.228" text-anchor="end" >100</text>
<path d="M433.3 409.9H449.4" stroke="#808080" stroke-width="1.3"/>
<text x="437.15" y="409.70" font-size="8.6" fill="#222" text-anchor="middle" font-weight="bold" >*</text>
<text x="441.35" y="409.70" font-size="8.6" fill="#222" text-anchor="middle" font-weight="bold" >*</text>
<text x="445.55" y="409.70" font-size="8.6" fill="#222" text-anchor="middle" font-weight="bold" >*</text>
<path d="M465.2 409.9H480.9" stroke="#808080" stroke-width="1.3"/>
<text x="473.05" y="409.70" font-size="8.6" fill="#222" text-anchor="middle" font-weight="bold" >*</text>
<path d="M499.3 409.9H515.4" stroke="#808080" stroke-width="1.3"/>
<text x="507.35" y="409.70" font-size="8.6" fill="#222" text-anchor="middle" font-weight="bold" >*</text>
<path d="M542.8 409.9H559.4" stroke="#808080" stroke-width="1.3"/>
<text x="551.10" y="409.70" font-size="8.6" fill="#222" text-anchor="middle" font-weight="bold" >*</text>
<path d="M572.9 409.9H588.8" stroke="#808080" stroke-width="1.3"/>
<text x="580.85" y="409.70" font-size="8.6" fill="#222" text-anchor="middle" font-weight="bold" >*</text>
<path d="M603.2 409.9H619.5" stroke="#808080" stroke-width="1.3"/>
<text x="611.35" y="409.70" font-size="8.6" fill="#222" text-anchor="middle" font-weight="bold" >*</text>
<rect x="423.30" y="365.60" width="9.2" height="9.2" fill="#f4404a" stroke="#333" stroke-width="0.9"/>
<text x="434.50" y="372.70" font-size="9" fill="#141414" stroke="#141414" stroke-width="0.216" textLength="33.40" lengthAdjust="spacingAndGlyphs" >ES-8 WT</text>
<rect x="494.80" y="365.60" width="9.2" height="9.2" fill="#d4adaf" stroke="#333" stroke-width="0.9"/>
<text x="506.00" y="372.70" font-size="9" fill="#141414" stroke="#141414" stroke-width="0.216" textLength="45.60" lengthAdjust="spacingAndGlyphs" >SK ES-1 WT</text>
<rect x="579.70" y="365.60" width="9.2" height="9.2" fill="#d4dc9d" stroke="#333" stroke-width="0.9"/>
<text x="590.90" y="372.70" font-size="9" fill="#141414" stroke="#141414" stroke-width="0.216" textLength="36.60" lengthAdjust="spacingAndGlyphs" >EW-8 WT</text>
<rect x="423.30" y="385.30" width="9.2" height="9.2" fill="#2200ff" stroke="#333" stroke-width="0.9"/>
<text x="434.50" y="392.40" font-size="9" fill="#141414" stroke="#141414" stroke-width="0.216" textLength="58.30" lengthAdjust="spacingAndGlyphs" >ES-8 <tspan font-style="italic">SLFN11</tspan><tspan font-size="6" dy="-3.5">-/-</tspan></text>
<rect x="494.80" y="385.30" width="9.2" height="9.2" fill="#8c91d1" stroke="#333" stroke-width="0.9"/>
<text x="506.00" y="392.40" font-size="9" fill="#141414" stroke="#141414" stroke-width="0.216" textLength="70.70" lengthAdjust="spacingAndGlyphs" >SK ES-1 <tspan font-style="italic">SLFN11</tspan><tspan font-size="6" dy="-3.5">-/-</tspan></text>
<rect x="579.70" y="385.30" width="9.2" height="9.2" fill="#7a8922" stroke="#333" stroke-width="0.9"/>
<text x="590.90" y="392.40" font-size="9" fill="#141414" stroke="#141414" stroke-width="0.216" textLength="61.80" lengthAdjust="spacingAndGlyphs" >EW-8 <tspan font-style="italic">SLFN11</tspan><tspan font-size="6" dy="-3.5">-/-</tspan></text>
<text transform="translate(383.6 502.4) rotate(-90)" text-anchor="middle" font-size="13.5" fill="#111" stroke="#111" stroke-width="0.2" textLength="87.3" lengthAdjust="spacingAndGlyphs">% Enrichment</text>
<text transform="translate(400.0 502.6) rotate(-90)" text-anchor="middle" font-size="13.5" fill="#111" stroke="#111" stroke-width="0.2" textLength="136.8" lengthAdjust="spacingAndGlyphs">U-<tspan font-size="9.5" dy="-4.2">13</tspan><tspan dy="4.2">C glucose labeling</tspan></text>
<text x="452.00" y="611.00" font-size="12.5" fill="#111" stroke="#111" stroke-width="0.3" textLength="55.50" lengthAdjust="spacingAndGlyphs" >G3P M+3</text>
<text x="558.20" y="611.00" font-size="12.5" fill="#111" stroke="#111" stroke-width="0.3" textLength="66.30" lengthAdjust="spacingAndGlyphs" >DHAP M+3</text>
</svg></body></html>
